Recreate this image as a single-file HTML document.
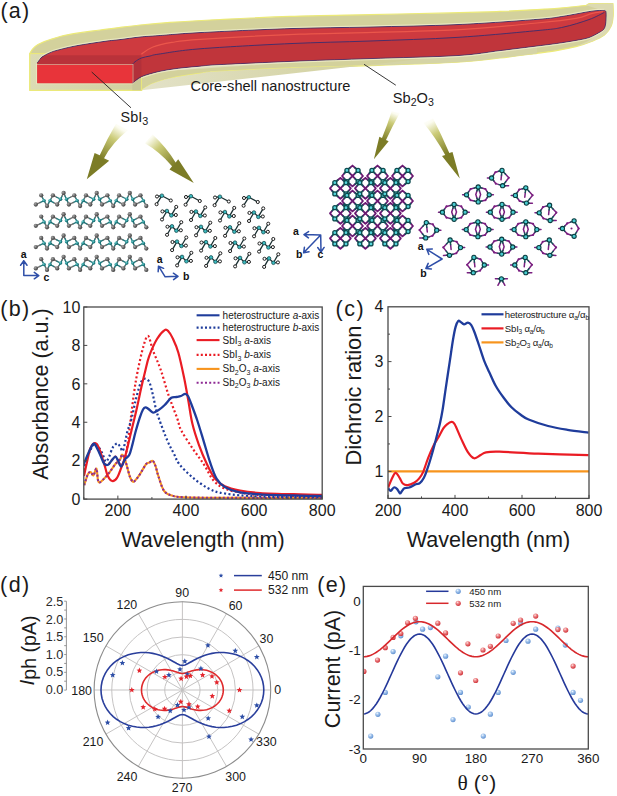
<!DOCTYPE html>
<html><head><meta charset="utf-8"><title>figure</title>
<style>
html,body{margin:0;padding:0;background:#fff;}
body{width:617px;height:796px;overflow:hidden;}
svg{display:block;}
text{font-family:"Liberation Sans",sans-serif;}
</style></head><body>
<svg width="617" height="796" viewBox="0 0 617 796">
<rect width="617" height="796" fill="#fff"/>
<path d="M29.8,53.6C30.33,52.77 31.63,50.1 33,48.6C34.37,47.1 36.12,45.77 38,44.6C39.88,43.43 42.13,42.48 44.3,41.6C46.47,40.72 48.38,40.15 51,39.3C53.62,38.45 57.07,37.28 60,36.5C62.93,35.72 65.78,35.15 68.6,34.6C71.42,34.05 72.83,33.82 76.9,33.2C80.97,32.58 88.32,31.53 93,30.9C97.68,30.27 101,29.92 105,29.4C109,28.88 111.17,28.53 117,27.8C122.83,27.07 131.17,25.9 140,25C148.83,24.1 156.67,23.32 170,22.4C183.33,21.48 200,20.5 220,19.5C240,18.5 265,17.22 290,16.4C315,15.58 343.33,15.18 370,14.6C396.67,14.02 428.33,13.43 450,12.9C471.67,12.37 485.5,11.95 500,11.4C514.5,10.85 526.5,10.2 537,9.6C547.5,9 554.78,8.52 563,7.8C571.22,7.08 582.42,5.72 586.3,5.3 L588.9,3.7 L613,3.6 C613.03,5.6 613.5,11.87 613.2,15.6C612.9,19.33 612.67,22.77 611.2,26C609.73,29.23 607.68,32.42 604.4,35C601.12,37.58 596.25,39.55 591.5,41.5C586.75,43.45 581.73,45.18 575.9,46.7C570.07,48.22 562.98,49.48 556.5,50.6C550.02,51.72 540.25,52.93 537,53.4 C530.83,54.17 513.33,56.53 500,58C486.67,59.47 478.67,60.93 457,62.2C435.33,63.47 396.17,64.7 370,65.6C343.83,66.5 325,66.65 300,67.6C275,68.55 236.67,70.33 220,71.3C203.33,72.27 208.02,72.28 200,73.4C191.98,74.52 179.83,76.27 171.9,78C163.97,79.73 157.48,81.75 152.4,83.8C147.32,85.85 143.23,89.22 141.4,90.3 L29.8,90.3 Z" fill="#d3d19c" stroke="#ecea78" stroke-width="1.2" stroke-linejoin="round"/>
<path d="M586.3,5.3 L588.9,3.7 L613,3.6 C613.03,5.6 613.5,11.87 613.2,15.6C612.9,19.33 612.67,22.77 611.2,26C609.73,29.23 607.68,32.42 604.4,35C601.12,37.58 596.25,39.55 591.5,41.5C586.75,43.45 578.5,45.83 575.9,46.7 L588,41 L604,30 L607,12 Z" fill="#dcdab2"/>
<linearGradient id="sideg" gradientUnits="userSpaceOnUse" x1="141" y1="0" x2="320" y2="0"><stop offset="0" stop-color="#e3e2c8"/><stop offset="1" stop-color="#d5d4a6"/></linearGradient>
<path d="M141.4,90.3 C143.23,89.22 147.32,85.85 152.4,83.8C157.48,81.75 163.97,79.73 171.9,78C179.83,76.27 191.98,74.52 200,73.4C208.02,72.28 203.33,72.27 220,71.3C236.67,70.33 275,68.55 300,67.6C325,66.65 343.83,66.5 370,65.6C396.17,64.7 435.33,63.47 457,62.2C478.67,60.93 486.67,59.47 500,58C513.33,56.53 530.83,54.17 537,53.4 L537,46 C473.98,50.25 218.67,67.78 158.9,71.5C99.13,75.22 171.55,69.18 178.4,68.3C185.25,67.42 193.07,66.82 200,66.2C206.93,65.58 203.33,65.47 220,64.6C236.67,63.73 275,62 300,61C325,60 343.83,59.5 370,58.6C396.17,57.7 435.33,56.93 457,55.6C478.67,54.27 486.67,52.2 500,50.6C513.33,49 530.83,46.77 537,46 Z" fill="url(#sideg)"/>
<linearGradient id="frontg" x1="0" y1="0" x2="1" y2="0"><stop offset="0" stop-color="#dcdbb4"/><stop offset="1" stop-color="#d0cf9f"/></linearGradient>
<rect x="29.8" y="53.6" width="111.6" height="36.7" fill="url(#frontg)" stroke="#ecea78" stroke-width="1.1"/>
<path d="M132.3,83.2 L141.4,76.7 L141.4,90.3 L132.3,90.3 Z" fill="#c9c899"/>
<line x1="141.4" y1="56" x2="141.4" y2="90.3" stroke="#ecea78" stroke-width="0.9"/>
<path d="M37.3,65 L37.3,62.8 C37.52,62.55 38.07,62.07 38.6,61.3C39.13,60.53 39.53,59.17 40.5,58.2C41.47,57.23 42.82,56.42 44.4,55.5C45.98,54.58 47.83,53.58 50,52.7C52.17,51.82 52.92,51.37 57.4,50.2C61.88,49.03 68.97,47.18 76.9,45.7C84.83,44.22 97.82,42.32 105,41.3C112.18,40.28 114.17,40.32 120,39.6C125.83,38.88 133.52,37.67 140,37C146.48,36.33 148.9,36.33 158.9,35.6C168.9,34.87 178.15,33.77 200,32.6C221.85,31.43 261.67,29.53 290,28.6C318.33,27.67 342.17,27.67 370,27C397.83,26.33 429.17,25.87 457,24.6C484.83,23.33 519.33,20.78 537,19.4C554.67,18.02 553.92,17.67 563,16.3C572.08,14.93 584.6,12.18 591.5,11.2C598.4,10.22 602.25,10.53 604.4,10.4 C604.67,10.75 605.8,10.23 606,12.5C606.2,14.77 606.02,21.17 605.6,24C605.18,26.83 604.6,28.07 603.5,29.5C602.4,30.93 601.43,31.25 599,32.6C596.57,33.95 592.75,36.3 588.9,37.6C585.05,38.9 581.3,39.42 575.9,40.4C570.5,41.38 562.98,42.57 556.5,43.5C550.02,44.43 540.25,45.58 537,46 C530.83,46.77 513.33,49 500,50.6C486.67,52.2 478.67,54.27 457,55.6C435.33,56.93 396.17,57.7 370,58.6C343.83,59.5 325,60 300,61C275,62 236.67,63.73 220,64.6C203.33,65.47 206.93,65.58 200,66.2C193.07,66.82 185.25,67.42 178.4,68.3C171.55,69.18 165.07,70.1 158.9,71.5C152.73,72.9 145.83,74.75 141.4,76.7C136.97,78.65 133.82,82.12 132.3,83.2 L37.3,83.2 Z" fill="#ce3a3f"/>
<clipPath id="coreclip"><path d="M37.3,65 L37.3,62.8 C37.52,62.55 38.07,62.07 38.6,61.3C39.13,60.53 39.53,59.17 40.5,58.2C41.47,57.23 42.82,56.42 44.4,55.5C45.98,54.58 47.83,53.58 50,52.7C52.17,51.82 52.92,51.37 57.4,50.2C61.88,49.03 68.97,47.18 76.9,45.7C84.83,44.22 97.82,42.32 105,41.3C112.18,40.28 114.17,40.32 120,39.6C125.83,38.88 133.52,37.67 140,37C146.48,36.33 148.9,36.33 158.9,35.6C168.9,34.87 178.15,33.77 200,32.6C221.85,31.43 261.67,29.53 290,28.6C318.33,27.67 342.17,27.67 370,27C397.83,26.33 429.17,25.87 457,24.6C484.83,23.33 519.33,20.78 537,19.4C554.67,18.02 553.92,17.67 563,16.3C572.08,14.93 584.6,12.18 591.5,11.2C598.4,10.22 602.25,10.53 604.4,10.4 C604.67,10.75 605.8,10.23 606,12.5C606.2,14.77 606.02,21.17 605.6,24C605.18,26.83 604.6,28.07 603.5,29.5C602.4,30.93 601.43,31.25 599,32.6C596.57,33.95 592.75,36.3 588.9,37.6C585.05,38.9 581.3,39.42 575.9,40.4C570.5,41.38 562.98,42.57 556.5,43.5C550.02,44.43 540.25,45.58 537,46 C530.83,46.77 513.33,49 500,50.6C486.67,52.2 478.67,54.27 457,55.6C435.33,56.93 396.17,57.7 370,58.6C343.83,59.5 325,60 300,61C275,62 236.67,63.73 220,64.6C203.33,65.47 206.93,65.58 200,66.2C193.07,66.82 185.25,67.42 178.4,68.3C171.55,69.18 165.07,70.1 158.9,71.5C152.73,72.9 145.83,74.75 141.4,76.7C136.97,78.65 133.82,82.12 132.3,83.2 L37.3,83.2 Z"/></clipPath>
<rect x="36" y="55.3" width="105.4" height="10" fill="#b9323a" clip-path="url(#coreclip)"/>
<path d="M132.3,64.6C132.75,64.13 133.48,62.9 135,61.8C136.52,60.7 138.9,58.97 141.4,58C143.9,57.03 147.08,56.65 150,56C152.92,55.35 150.57,55.3 158.9,54.1C167.23,52.9 178.15,50.55 200,48.8C221.85,47.05 261.67,44.9 290,43.6C318.33,42.3 342.17,42.03 370,41C397.83,39.97 429.17,39.13 457,37.4C484.83,35.67 519.33,32.3 537,30.6C554.67,28.9 554.35,29.03 563,27.2C571.65,25.37 582,22.07 588.9,19.6C595.8,17.13 601.82,13.6 604.4,12.4 C604.67,10.75 605.8,10.23 606,12.5C606.2,14.77 606.02,21.17 605.6,24C605.18,26.83 604.6,28.07 603.5,29.5C602.4,30.93 601.43,31.25 599,32.6C596.57,33.95 592.75,36.3 588.9,37.6C585.05,38.9 581.3,39.42 575.9,40.4C570.5,41.38 562.98,42.57 556.5,43.5C550.02,44.43 540.25,45.58 537,46 C530.83,46.77 513.33,49 500,50.6C486.67,52.2 478.67,54.27 457,55.6C435.33,56.93 396.17,57.7 370,58.6C343.83,59.5 325,60 300,61C275,62 236.67,63.73 220,64.6C203.33,65.47 206.93,65.58 200,66.2C193.07,66.82 185.25,67.42 178.4,68.3C171.55,69.18 165.07,70.1 158.9,71.5C152.73,72.9 145.83,74.75 141.4,76.7C136.97,78.65 133.82,82.12 132.3,83.2 Z" fill="#c0353b"/>
<path d="M132.3,64.6 L141.4,58 L141.4,76.7 L132.3,83.2 Z" fill="#b2303a"/>
<rect x="37.3" y="65" width="95" height="18.2" fill="#e8343a"/>
<path d="M141.4,54.2C143.23,53.03 147.32,49.17 152.4,47.2C157.48,45.23 163.97,43.72 171.9,42.4C179.83,41.08 178.65,40.67 200,39.3C221.35,37.93 258.33,35.72 300,34.2C341.67,32.68 410.5,32.07 450,30.2C489.5,28.33 516,24.97 537,23C558,21.03 566.92,19.97 576,18.4C585.08,16.83 587,14.73 591.5,13.6C596,12.47 601.08,11.93 603,11.6" fill="none" stroke="#ee5a4c" stroke-width="1.2" opacity="0.9"/>
<path d="M38.6,61.3C38.92,60.78 39.53,59.17 40.5,58.2C41.47,57.23 42.82,56.42 44.4,55.5C45.98,54.58 47.83,53.58 50,52.7C52.17,51.82 52.92,51.37 57.4,50.2C61.88,49.03 68.97,47.18 76.9,45.7C84.83,44.22 97.82,42.32 105,41.3C112.18,40.28 114.17,40.32 120,39.6C125.83,38.88 133.52,37.67 140,37C146.48,36.33 148.9,36.33 158.9,35.6C168.9,34.87 178.15,33.77 200,32.6C221.85,31.43 261.67,29.53 290,28.6C318.33,27.67 342.17,27.67 370,27C397.83,26.33 429.17,25.87 457,24.6C484.83,23.33 519.33,20.78 537,19.4C554.67,18.02 553.92,17.67 563,16.3C572.08,14.93 584.6,12.18 591.5,11.2C598.4,10.22 602.25,10.53 604.4,10.4" fill="none" stroke="#3b2d6e" stroke-width="0.9"/>
<path d="M132.3,64.6C132.75,64.13 133.48,62.9 135,61.8C136.52,60.7 138.9,58.97 141.4,58C143.9,57.03 147.08,56.65 150,56C152.92,55.35 150.57,55.3 158.9,54.1C167.23,52.9 178.15,50.55 200,48.8C221.85,47.05 261.67,44.9 290,43.6C318.33,42.3 342.17,42.03 370,41C397.83,39.97 429.17,39.13 457,37.4C484.83,35.67 519.33,32.3 537,30.6C554.67,28.9 554.35,29.03 563,27.2C571.65,25.37 582,22.07 588.9,19.6C595.8,17.13 601.82,13.6 604.4,12.4" fill="none" stroke="#3b2d6e" stroke-width="0.9"/>
<path d="M37.3,62.8 L38.6,61.3" fill="none" stroke="#3b2d6e" stroke-width="0.9"/>
<path d="M604.4,10.4C604.67,10.75 605.8,10.23 606,12.5C606.2,14.77 606.02,21.17 605.6,24C605.18,26.83 604.6,28.07 603.5,29.5C602.4,30.93 601.43,31.25 599,32.6C596.57,33.95 592.75,36.3 588.9,37.6C585.05,38.9 581.3,39.42 575.9,40.4C570.5,41.38 562.98,42.57 556.5,43.5C550.02,44.43 546.42,44.82 537,46C527.58,47.18 513.33,49 500,50.6C486.67,52.2 478.67,54.27 457,55.6C435.33,56.93 396.17,57.7 370,58.6C343.83,59.5 325,60 300,61C275,62 236.67,63.73 220,64.6C203.33,65.47 206.93,65.58 200,66.2C193.07,66.82 185.25,67.42 178.4,68.3C171.55,69.18 165.07,70.1 158.9,71.5C152.73,72.9 145.83,74.75 141.4,76.7C136.97,78.65 133.82,82.12 132.3,83.2" fill="none" stroke="#3b2d6e" stroke-width="0.8"/>
<g transform="translate(0,-1.1)"><path d="M38.6,61.3C38.92,60.78 39.53,59.17 40.5,58.2C41.47,57.23 42.82,56.42 44.4,55.5C45.98,54.58 47.83,53.58 50,52.7C52.17,51.82 52.92,51.37 57.4,50.2C61.88,49.03 68.97,47.18 76.9,45.7C84.83,44.22 97.82,42.32 105,41.3C112.18,40.28 114.17,40.32 120,39.6C125.83,38.88 133.52,37.67 140,37C146.48,36.33 148.9,36.33 158.9,35.6C168.9,34.87 178.15,33.77 200,32.6C221.85,31.43 261.67,29.53 290,28.6C318.33,27.67 342.17,27.67 370,27C397.83,26.33 429.17,25.87 457,24.6C484.83,23.33 519.33,20.78 537,19.4C554.67,18.02 553.92,17.67 563,16.3C572.08,14.93 584.6,12.18 591.5,11.2C598.4,10.22 602.25,10.53 604.4,10.4" fill="none" stroke="#f2f0cf" stroke-width="0.8"/></g>
<g transform="translate(0,1.1)"><path d="M603.5,29.5C602.75,30.02 601.43,31.25 599,32.6C596.57,33.95 592.75,36.3 588.9,37.6C585.05,38.9 581.3,39.42 575.9,40.4C570.5,41.38 562.98,42.57 556.5,43.5C550.02,44.43 546.42,44.82 537,46C527.58,47.18 513.33,49 500,50.6C486.67,52.2 478.67,54.27 457,55.6C435.33,56.93 396.17,57.7 370,58.6C343.83,59.5 325,60 300,61C275,62 236.67,63.73 220,64.6C203.33,65.47 206.93,65.58 200,66.2C193.07,66.82 185.25,67.42 178.4,68.3C171.55,69.18 165.07,70.1 158.9,71.5C152.73,72.9 144.32,75.83 141.4,76.7" fill="none" stroke="#f2f0cf" stroke-width="0.8"/></g>
<rect x="36.6" y="64.4" width="96.4" height="19.5" fill="none" stroke="#f2f0c8" stroke-width="0.7" opacity="0.7"/>
<line x1="91.7" y1="72" x2="131" y2="107.8" stroke="#222" stroke-width="0.9"/>
<line x1="364" y1="64.3" x2="395.8" y2="85.2" stroke="#222" stroke-width="0.9"/>
<text x="0.4" y="18.4" font-size="21.5" text-anchor="start" fill="#1a1a1a" letter-spacing="1.3">(a)</text>
<text x="190.6" y="91.2" font-size="14.6" text-anchor="start" fill="#1a1a1a" >Core-shell nanostructure</text>
<text x="120.6" y="122" font-size="14.4" fill="#1a1a1a">SbI<tspan font-size="10.8" dy="3.2">3</tspan></text>
<text x="392.8" y="102.9" font-size="14.6" fill="#1a1a1a">Sb<tspan font-size="10.6" dy="2.9">2</tspan><tspan dy="-2.9">O</tspan><tspan font-size="10.6" dy="2.9">3</tspan></text>
<defs>
<linearGradient id="ag1" gradientUnits="userSpaceOnUse" x1="122" y1="124" x2="100" y2="158"><stop offset="0" stop-color="#ffffff"/><stop offset="0.12" stop-color="#fbfbef"/><stop offset="0.42" stop-color="#cbcb78"/><stop offset="1" stop-color="#7c7c26"/></linearGradient>
<linearGradient id="ag2" gradientUnits="userSpaceOnUse" x1="146" y1="136" x2="175" y2="165"><stop offset="0" stop-color="#ffffff"/><stop offset="0.12" stop-color="#fbfbef"/><stop offset="0.42" stop-color="#cbcb78"/><stop offset="1" stop-color="#7c7c26"/></linearGradient>
<linearGradient id="ag3" gradientUnits="userSpaceOnUse" x1="396" y1="110" x2="383" y2="140"><stop offset="0" stop-color="#ffffff"/><stop offset="0.12" stop-color="#fbfbef"/><stop offset="0.42" stop-color="#cbcb78"/><stop offset="1" stop-color="#7c7c26"/></linearGradient>
<linearGradient id="ag4" gradientUnits="userSpaceOnUse" x1="427" y1="119" x2="448" y2="154"><stop offset="0" stop-color="#ffffff"/><stop offset="0.12" stop-color="#fbfbef"/><stop offset="0.42" stop-color="#cbcb78"/><stop offset="1" stop-color="#7c7c26"/></linearGradient>
</defs>
<path d="M116,123.8 Q107,139 99.74,155.35 L94.6,152.9 L86.8,179.2 L109.2,160.7 L104.06,158.25 Q112,143 128.2,130.1 Z" fill="url(#ag1)"/>
<path d="M152.6,134.6 Q166,147 175.63,162.5 L178.2,159.3 L193.8,183.1 L169.5,169.5 L172.07,166.3 Q160,152 144.9,143.3 Z" fill="url(#ag2)"/>
<path d="M391.7,111.3 Q387,126 382,138 L379.35,136.7 L373.9,159.2 L388.65,141.3 L386,140 Q392,127 399.8,113 Z" fill="url(#ag3)"/>
<path d="M423.3,122.7 Q436,138 445.2,154.9 L442,155.9 L459.8,178.5 L452.5,151.9 L449.3,152.9 Q441,134 433.1,118.6 Z" fill="url(#ag4)"/>
<defs>
<radialGradient id="gball" cx="0.35" cy="0.35" r="0.75"><stop offset="0" stop-color="#a8a8a8"/><stop offset="0.6" stop-color="#5c5c5c"/><stop offset="1" stop-color="#3a3a3a"/></radialGradient>
<radialGradient id="tball" cx="0.35" cy="0.35" r="0.75"><stop offset="0" stop-color="#6fcfd0"/><stop offset="0.6" stop-color="#1c8185"/><stop offset="1" stop-color="#0d4f52"/></radialGradient>
</defs>
<g stroke-width="1.35" stroke-linecap="round"><line x1="41.2" y1="195.3" x2="42.65" y2="197.95" stroke="#707070"/><line x1="42.65" y1="197.95" x2="44.1" y2="200.6" stroke="#25797c"/><line x1="44.1" y1="200.6" x2="39.95" y2="202.55" stroke="#25797c"/><line x1="39.95" y1="202.55" x2="35.8" y2="204.5" stroke="#707070"/><line x1="44.1" y1="200.6" x2="45.55" y2="203.3" stroke="#25797c"/><line x1="45.55" y1="203.3" x2="47" y2="206" stroke="#707070"/><line x1="47" y1="206" x2="48.5" y2="203.3" stroke="#707070"/><line x1="48.5" y1="203.3" x2="50" y2="200.6" stroke="#25797c"/><line x1="50" y1="200.6" x2="51.45" y2="197.95" stroke="#25797c"/><line x1="51.45" y1="197.95" x2="52.9" y2="195.3" stroke="#707070"/><line x1="52.9" y1="195.3" x2="56.75" y2="197.25" stroke="#707070"/><line x1="56.75" y1="197.25" x2="60.6" y2="199.2" stroke="#25797c"/><line x1="60.6" y1="199.2" x2="58.9" y2="201.85" stroke="#25797c"/><line x1="58.9" y1="201.85" x2="57.2" y2="204.5" stroke="#707070"/><line x1="57.2" y1="204.5" x2="53.6" y2="202.55" stroke="#707070"/><line x1="53.6" y1="202.55" x2="50" y2="200.6" stroke="#25797c"/><line x1="60.6" y1="199.2" x2="62.1" y2="196.05" stroke="#25797c"/><line x1="62.1" y1="196.05" x2="63.6" y2="192.9" stroke="#707070"/><line x1="63.6" y1="192.9" x2="65.05" y2="196.05" stroke="#707070"/><line x1="65.05" y1="196.05" x2="66.5" y2="199.2" stroke="#25797c"/><line x1="66.5" y1="199.2" x2="70.4" y2="197.25" stroke="#25797c"/><line x1="70.4" y1="197.25" x2="74.3" y2="195.3" stroke="#707070"/><line x1="74.3" y1="195.3" x2="75.75" y2="197.95" stroke="#707070"/><line x1="75.75" y1="197.95" x2="77.2" y2="200.6" stroke="#25797c"/><line x1="77.2" y1="200.6" x2="73.05" y2="202.55" stroke="#25797c"/><line x1="73.05" y1="202.55" x2="68.9" y2="204.5" stroke="#707070"/><line x1="68.9" y1="204.5" x2="67.7" y2="201.85" stroke="#707070"/><line x1="67.7" y1="201.85" x2="66.5" y2="199.2" stroke="#25797c"/><line x1="77.2" y1="200.6" x2="78.65" y2="203.3" stroke="#25797c"/><line x1="78.65" y1="203.3" x2="80.1" y2="206" stroke="#707070"/><line x1="80.1" y1="206" x2="81.6" y2="203.3" stroke="#707070"/><line x1="81.6" y1="203.3" x2="83.1" y2="200.6" stroke="#25797c"/><line x1="83.1" y1="200.6" x2="84.55" y2="197.95" stroke="#25797c"/><line x1="84.55" y1="197.95" x2="86" y2="195.3" stroke="#707070"/><line x1="86" y1="195.3" x2="89.85" y2="197.25" stroke="#707070"/><line x1="89.85" y1="197.25" x2="93.7" y2="199.2" stroke="#25797c"/><line x1="93.7" y1="199.2" x2="92" y2="201.85" stroke="#25797c"/><line x1="92" y1="201.85" x2="90.3" y2="204.5" stroke="#707070"/><line x1="90.3" y1="204.5" x2="86.7" y2="202.55" stroke="#707070"/><line x1="86.7" y1="202.55" x2="83.1" y2="200.6" stroke="#25797c"/><line x1="93.7" y1="199.2" x2="95.2" y2="196.05" stroke="#25797c"/><line x1="95.2" y1="196.05" x2="96.7" y2="192.9" stroke="#707070"/><line x1="96.7" y1="192.9" x2="98.15" y2="196.05" stroke="#707070"/><line x1="98.15" y1="196.05" x2="99.6" y2="199.2" stroke="#25797c"/><line x1="99.6" y1="199.2" x2="103.5" y2="197.25" stroke="#25797c"/><line x1="103.5" y1="197.25" x2="107.4" y2="195.3" stroke="#707070"/><line x1="107.4" y1="195.3" x2="108.85" y2="197.95" stroke="#707070"/><line x1="108.85" y1="197.95" x2="110.3" y2="200.6" stroke="#25797c"/><line x1="110.3" y1="200.6" x2="106.15" y2="202.55" stroke="#25797c"/><line x1="106.15" y1="202.55" x2="102" y2="204.5" stroke="#707070"/><line x1="102" y1="204.5" x2="100.8" y2="201.85" stroke="#707070"/><line x1="100.8" y1="201.85" x2="99.6" y2="199.2" stroke="#25797c"/><line x1="110.3" y1="200.6" x2="111.75" y2="203.3" stroke="#25797c"/><line x1="111.75" y1="203.3" x2="113.2" y2="206" stroke="#707070"/><line x1="113.2" y1="206" x2="114.7" y2="203.3" stroke="#707070"/><line x1="114.7" y1="203.3" x2="116.2" y2="200.6" stroke="#25797c"/><line x1="116.2" y1="200.6" x2="117.65" y2="197.95" stroke="#25797c"/><line x1="117.65" y1="197.95" x2="119.1" y2="195.3" stroke="#707070"/><line x1="119.1" y1="195.3" x2="122.95" y2="197.25" stroke="#707070"/><line x1="122.95" y1="197.25" x2="126.8" y2="199.2" stroke="#25797c"/><line x1="126.8" y1="199.2" x2="125.1" y2="201.85" stroke="#25797c"/><line x1="125.1" y1="201.85" x2="123.4" y2="204.5" stroke="#707070"/><line x1="123.4" y1="204.5" x2="119.8" y2="202.55" stroke="#707070"/><line x1="119.8" y1="202.55" x2="116.2" y2="200.6" stroke="#25797c"/><line x1="126.8" y1="199.2" x2="128.3" y2="196.05" stroke="#25797c"/><line x1="128.3" y1="196.05" x2="129.8" y2="192.9" stroke="#707070"/><line x1="129.8" y1="192.9" x2="131.25" y2="196.05" stroke="#707070"/><line x1="131.25" y1="196.05" x2="132.7" y2="199.2" stroke="#25797c"/><line x1="132.7" y1="199.2" x2="136.6" y2="197.25" stroke="#25797c"/><line x1="136.6" y1="197.25" x2="140.5" y2="195.3" stroke="#707070"/><line x1="140.5" y1="195.3" x2="141.95" y2="197.95" stroke="#707070"/><line x1="141.95" y1="197.95" x2="143.4" y2="200.6" stroke="#25797c"/><line x1="143.4" y1="200.6" x2="139.25" y2="202.55" stroke="#25797c"/><line x1="139.25" y1="202.55" x2="135.1" y2="204.5" stroke="#707070"/><line x1="135.1" y1="204.5" x2="133.9" y2="201.85" stroke="#707070"/><line x1="133.9" y1="201.85" x2="132.7" y2="199.2" stroke="#25797c"/><line x1="143.4" y1="200.6" x2="144.85" y2="203.3" stroke="#25797c"/><line x1="144.85" y1="203.3" x2="146.3" y2="206" stroke="#707070"/><line x1="41.2" y1="216.6" x2="42.65" y2="219.25" stroke="#707070"/><line x1="42.65" y1="219.25" x2="44.1" y2="221.9" stroke="#25797c"/><line x1="44.1" y1="221.9" x2="39.95" y2="223.85" stroke="#25797c"/><line x1="39.95" y1="223.85" x2="35.8" y2="225.8" stroke="#707070"/><line x1="44.1" y1="221.9" x2="45.55" y2="224.6" stroke="#25797c"/><line x1="45.55" y1="224.6" x2="47" y2="227.3" stroke="#707070"/><line x1="47" y1="227.3" x2="48.5" y2="224.6" stroke="#707070"/><line x1="48.5" y1="224.6" x2="50" y2="221.9" stroke="#25797c"/><line x1="50" y1="221.9" x2="51.45" y2="219.25" stroke="#25797c"/><line x1="51.45" y1="219.25" x2="52.9" y2="216.6" stroke="#707070"/><line x1="52.9" y1="216.6" x2="56.75" y2="218.55" stroke="#707070"/><line x1="56.75" y1="218.55" x2="60.6" y2="220.5" stroke="#25797c"/><line x1="60.6" y1="220.5" x2="58.9" y2="223.15" stroke="#25797c"/><line x1="58.9" y1="223.15" x2="57.2" y2="225.8" stroke="#707070"/><line x1="57.2" y1="225.8" x2="53.6" y2="223.85" stroke="#707070"/><line x1="53.6" y1="223.85" x2="50" y2="221.9" stroke="#25797c"/><line x1="60.6" y1="220.5" x2="62.1" y2="217.35" stroke="#25797c"/><line x1="62.1" y1="217.35" x2="63.6" y2="214.2" stroke="#707070"/><line x1="63.6" y1="214.2" x2="65.05" y2="217.35" stroke="#707070"/><line x1="65.05" y1="217.35" x2="66.5" y2="220.5" stroke="#25797c"/><line x1="66.5" y1="220.5" x2="70.4" y2="218.55" stroke="#25797c"/><line x1="70.4" y1="218.55" x2="74.3" y2="216.6" stroke="#707070"/><line x1="74.3" y1="216.6" x2="75.75" y2="219.25" stroke="#707070"/><line x1="75.75" y1="219.25" x2="77.2" y2="221.9" stroke="#25797c"/><line x1="77.2" y1="221.9" x2="73.05" y2="223.85" stroke="#25797c"/><line x1="73.05" y1="223.85" x2="68.9" y2="225.8" stroke="#707070"/><line x1="68.9" y1="225.8" x2="67.7" y2="223.15" stroke="#707070"/><line x1="67.7" y1="223.15" x2="66.5" y2="220.5" stroke="#25797c"/><line x1="77.2" y1="221.9" x2="78.65" y2="224.6" stroke="#25797c"/><line x1="78.65" y1="224.6" x2="80.1" y2="227.3" stroke="#707070"/><line x1="80.1" y1="227.3" x2="81.6" y2="224.6" stroke="#707070"/><line x1="81.6" y1="224.6" x2="83.1" y2="221.9" stroke="#25797c"/><line x1="83.1" y1="221.9" x2="84.55" y2="219.25" stroke="#25797c"/><line x1="84.55" y1="219.25" x2="86" y2="216.6" stroke="#707070"/><line x1="86" y1="216.6" x2="89.85" y2="218.55" stroke="#707070"/><line x1="89.85" y1="218.55" x2="93.7" y2="220.5" stroke="#25797c"/><line x1="93.7" y1="220.5" x2="92" y2="223.15" stroke="#25797c"/><line x1="92" y1="223.15" x2="90.3" y2="225.8" stroke="#707070"/><line x1="90.3" y1="225.8" x2="86.7" y2="223.85" stroke="#707070"/><line x1="86.7" y1="223.85" x2="83.1" y2="221.9" stroke="#25797c"/><line x1="93.7" y1="220.5" x2="95.2" y2="217.35" stroke="#25797c"/><line x1="95.2" y1="217.35" x2="96.7" y2="214.2" stroke="#707070"/><line x1="96.7" y1="214.2" x2="98.15" y2="217.35" stroke="#707070"/><line x1="98.15" y1="217.35" x2="99.6" y2="220.5" stroke="#25797c"/><line x1="99.6" y1="220.5" x2="103.5" y2="218.55" stroke="#25797c"/><line x1="103.5" y1="218.55" x2="107.4" y2="216.6" stroke="#707070"/><line x1="107.4" y1="216.6" x2="108.85" y2="219.25" stroke="#707070"/><line x1="108.85" y1="219.25" x2="110.3" y2="221.9" stroke="#25797c"/><line x1="110.3" y1="221.9" x2="106.15" y2="223.85" stroke="#25797c"/><line x1="106.15" y1="223.85" x2="102" y2="225.8" stroke="#707070"/><line x1="102" y1="225.8" x2="100.8" y2="223.15" stroke="#707070"/><line x1="100.8" y1="223.15" x2="99.6" y2="220.5" stroke="#25797c"/><line x1="110.3" y1="221.9" x2="111.75" y2="224.6" stroke="#25797c"/><line x1="111.75" y1="224.6" x2="113.2" y2="227.3" stroke="#707070"/><line x1="113.2" y1="227.3" x2="114.7" y2="224.6" stroke="#707070"/><line x1="114.7" y1="224.6" x2="116.2" y2="221.9" stroke="#25797c"/><line x1="116.2" y1="221.9" x2="117.65" y2="219.25" stroke="#25797c"/><line x1="117.65" y1="219.25" x2="119.1" y2="216.6" stroke="#707070"/><line x1="119.1" y1="216.6" x2="122.95" y2="218.55" stroke="#707070"/><line x1="122.95" y1="218.55" x2="126.8" y2="220.5" stroke="#25797c"/><line x1="126.8" y1="220.5" x2="125.1" y2="223.15" stroke="#25797c"/><line x1="125.1" y1="223.15" x2="123.4" y2="225.8" stroke="#707070"/><line x1="123.4" y1="225.8" x2="119.8" y2="223.85" stroke="#707070"/><line x1="119.8" y1="223.85" x2="116.2" y2="221.9" stroke="#25797c"/><line x1="126.8" y1="220.5" x2="128.3" y2="217.35" stroke="#25797c"/><line x1="128.3" y1="217.35" x2="129.8" y2="214.2" stroke="#707070"/><line x1="129.8" y1="214.2" x2="131.25" y2="217.35" stroke="#707070"/><line x1="131.25" y1="217.35" x2="132.7" y2="220.5" stroke="#25797c"/><line x1="132.7" y1="220.5" x2="136.6" y2="218.55" stroke="#25797c"/><line x1="136.6" y1="218.55" x2="140.5" y2="216.6" stroke="#707070"/><line x1="140.5" y1="216.6" x2="141.95" y2="219.25" stroke="#707070"/><line x1="141.95" y1="219.25" x2="143.4" y2="221.9" stroke="#25797c"/><line x1="143.4" y1="221.9" x2="139.25" y2="223.85" stroke="#25797c"/><line x1="139.25" y1="223.85" x2="135.1" y2="225.8" stroke="#707070"/><line x1="135.1" y1="225.8" x2="133.9" y2="223.15" stroke="#707070"/><line x1="133.9" y1="223.15" x2="132.7" y2="220.5" stroke="#25797c"/><line x1="143.4" y1="221.9" x2="144.85" y2="224.6" stroke="#25797c"/><line x1="144.85" y1="224.6" x2="146.3" y2="227.3" stroke="#707070"/><line x1="41.2" y1="237.9" x2="42.65" y2="240.55" stroke="#707070"/><line x1="42.65" y1="240.55" x2="44.1" y2="243.2" stroke="#25797c"/><line x1="44.1" y1="243.2" x2="39.95" y2="245.15" stroke="#25797c"/><line x1="39.95" y1="245.15" x2="35.8" y2="247.1" stroke="#707070"/><line x1="44.1" y1="243.2" x2="45.55" y2="245.9" stroke="#25797c"/><line x1="45.55" y1="245.9" x2="47" y2="248.6" stroke="#707070"/><line x1="47" y1="248.6" x2="48.5" y2="245.9" stroke="#707070"/><line x1="48.5" y1="245.9" x2="50" y2="243.2" stroke="#25797c"/><line x1="50" y1="243.2" x2="51.45" y2="240.55" stroke="#25797c"/><line x1="51.45" y1="240.55" x2="52.9" y2="237.9" stroke="#707070"/><line x1="52.9" y1="237.9" x2="56.75" y2="239.85" stroke="#707070"/><line x1="56.75" y1="239.85" x2="60.6" y2="241.8" stroke="#25797c"/><line x1="60.6" y1="241.8" x2="58.9" y2="244.45" stroke="#25797c"/><line x1="58.9" y1="244.45" x2="57.2" y2="247.1" stroke="#707070"/><line x1="57.2" y1="247.1" x2="53.6" y2="245.15" stroke="#707070"/><line x1="53.6" y1="245.15" x2="50" y2="243.2" stroke="#25797c"/><line x1="60.6" y1="241.8" x2="62.1" y2="238.65" stroke="#25797c"/><line x1="62.1" y1="238.65" x2="63.6" y2="235.5" stroke="#707070"/><line x1="63.6" y1="235.5" x2="65.05" y2="238.65" stroke="#707070"/><line x1="65.05" y1="238.65" x2="66.5" y2="241.8" stroke="#25797c"/><line x1="66.5" y1="241.8" x2="70.4" y2="239.85" stroke="#25797c"/><line x1="70.4" y1="239.85" x2="74.3" y2="237.9" stroke="#707070"/><line x1="74.3" y1="237.9" x2="75.75" y2="240.55" stroke="#707070"/><line x1="75.75" y1="240.55" x2="77.2" y2="243.2" stroke="#25797c"/><line x1="77.2" y1="243.2" x2="73.05" y2="245.15" stroke="#25797c"/><line x1="73.05" y1="245.15" x2="68.9" y2="247.1" stroke="#707070"/><line x1="68.9" y1="247.1" x2="67.7" y2="244.45" stroke="#707070"/><line x1="67.7" y1="244.45" x2="66.5" y2="241.8" stroke="#25797c"/><line x1="77.2" y1="243.2" x2="78.65" y2="245.9" stroke="#25797c"/><line x1="78.65" y1="245.9" x2="80.1" y2="248.6" stroke="#707070"/><line x1="80.1" y1="248.6" x2="81.6" y2="245.9" stroke="#707070"/><line x1="81.6" y1="245.9" x2="83.1" y2="243.2" stroke="#25797c"/><line x1="83.1" y1="243.2" x2="84.55" y2="240.55" stroke="#25797c"/><line x1="84.55" y1="240.55" x2="86" y2="237.9" stroke="#707070"/><line x1="86" y1="237.9" x2="89.85" y2="239.85" stroke="#707070"/><line x1="89.85" y1="239.85" x2="93.7" y2="241.8" stroke="#25797c"/><line x1="93.7" y1="241.8" x2="92" y2="244.45" stroke="#25797c"/><line x1="92" y1="244.45" x2="90.3" y2="247.1" stroke="#707070"/><line x1="90.3" y1="247.1" x2="86.7" y2="245.15" stroke="#707070"/><line x1="86.7" y1="245.15" x2="83.1" y2="243.2" stroke="#25797c"/><line x1="93.7" y1="241.8" x2="95.2" y2="238.65" stroke="#25797c"/><line x1="95.2" y1="238.65" x2="96.7" y2="235.5" stroke="#707070"/><line x1="96.7" y1="235.5" x2="98.15" y2="238.65" stroke="#707070"/><line x1="98.15" y1="238.65" x2="99.6" y2="241.8" stroke="#25797c"/><line x1="99.6" y1="241.8" x2="103.5" y2="239.85" stroke="#25797c"/><line x1="103.5" y1="239.85" x2="107.4" y2="237.9" stroke="#707070"/><line x1="107.4" y1="237.9" x2="108.85" y2="240.55" stroke="#707070"/><line x1="108.85" y1="240.55" x2="110.3" y2="243.2" stroke="#25797c"/><line x1="110.3" y1="243.2" x2="106.15" y2="245.15" stroke="#25797c"/><line x1="106.15" y1="245.15" x2="102" y2="247.1" stroke="#707070"/><line x1="102" y1="247.1" x2="100.8" y2="244.45" stroke="#707070"/><line x1="100.8" y1="244.45" x2="99.6" y2="241.8" stroke="#25797c"/><line x1="110.3" y1="243.2" x2="111.75" y2="245.9" stroke="#25797c"/><line x1="111.75" y1="245.9" x2="113.2" y2="248.6" stroke="#707070"/><line x1="113.2" y1="248.6" x2="114.7" y2="245.9" stroke="#707070"/><line x1="114.7" y1="245.9" x2="116.2" y2="243.2" stroke="#25797c"/><line x1="116.2" y1="243.2" x2="117.65" y2="240.55" stroke="#25797c"/><line x1="117.65" y1="240.55" x2="119.1" y2="237.9" stroke="#707070"/><line x1="119.1" y1="237.9" x2="122.95" y2="239.85" stroke="#707070"/><line x1="122.95" y1="239.85" x2="126.8" y2="241.8" stroke="#25797c"/><line x1="126.8" y1="241.8" x2="125.1" y2="244.45" stroke="#25797c"/><line x1="125.1" y1="244.45" x2="123.4" y2="247.1" stroke="#707070"/><line x1="123.4" y1="247.1" x2="119.8" y2="245.15" stroke="#707070"/><line x1="119.8" y1="245.15" x2="116.2" y2="243.2" stroke="#25797c"/><line x1="126.8" y1="241.8" x2="128.3" y2="238.65" stroke="#25797c"/><line x1="128.3" y1="238.65" x2="129.8" y2="235.5" stroke="#707070"/><line x1="129.8" y1="235.5" x2="131.25" y2="238.65" stroke="#707070"/><line x1="131.25" y1="238.65" x2="132.7" y2="241.8" stroke="#25797c"/><line x1="132.7" y1="241.8" x2="136.6" y2="239.85" stroke="#25797c"/><line x1="136.6" y1="239.85" x2="140.5" y2="237.9" stroke="#707070"/><line x1="140.5" y1="237.9" x2="141.95" y2="240.55" stroke="#707070"/><line x1="141.95" y1="240.55" x2="143.4" y2="243.2" stroke="#25797c"/><line x1="143.4" y1="243.2" x2="139.25" y2="245.15" stroke="#25797c"/><line x1="139.25" y1="245.15" x2="135.1" y2="247.1" stroke="#707070"/><line x1="135.1" y1="247.1" x2="133.9" y2="244.45" stroke="#707070"/><line x1="133.9" y1="244.45" x2="132.7" y2="241.8" stroke="#25797c"/><line x1="143.4" y1="243.2" x2="144.85" y2="245.9" stroke="#25797c"/><line x1="144.85" y1="245.9" x2="146.3" y2="248.6" stroke="#707070"/><line x1="41.2" y1="259.2" x2="42.65" y2="261.85" stroke="#707070"/><line x1="42.65" y1="261.85" x2="44.1" y2="264.5" stroke="#25797c"/><line x1="44.1" y1="264.5" x2="39.95" y2="266.45" stroke="#25797c"/><line x1="39.95" y1="266.45" x2="35.8" y2="268.4" stroke="#707070"/><line x1="44.1" y1="264.5" x2="45.55" y2="267.2" stroke="#25797c"/><line x1="45.55" y1="267.2" x2="47" y2="269.9" stroke="#707070"/><line x1="47" y1="269.9" x2="48.5" y2="267.2" stroke="#707070"/><line x1="48.5" y1="267.2" x2="50" y2="264.5" stroke="#25797c"/><line x1="50" y1="264.5" x2="51.45" y2="261.85" stroke="#25797c"/><line x1="51.45" y1="261.85" x2="52.9" y2="259.2" stroke="#707070"/><line x1="52.9" y1="259.2" x2="56.75" y2="261.15" stroke="#707070"/><line x1="56.75" y1="261.15" x2="60.6" y2="263.1" stroke="#25797c"/><line x1="60.6" y1="263.1" x2="58.9" y2="265.75" stroke="#25797c"/><line x1="58.9" y1="265.75" x2="57.2" y2="268.4" stroke="#707070"/><line x1="57.2" y1="268.4" x2="53.6" y2="266.45" stroke="#707070"/><line x1="53.6" y1="266.45" x2="50" y2="264.5" stroke="#25797c"/><line x1="60.6" y1="263.1" x2="62.1" y2="259.95" stroke="#25797c"/><line x1="62.1" y1="259.95" x2="63.6" y2="256.8" stroke="#707070"/><line x1="63.6" y1="256.8" x2="65.05" y2="259.95" stroke="#707070"/><line x1="65.05" y1="259.95" x2="66.5" y2="263.1" stroke="#25797c"/><line x1="66.5" y1="263.1" x2="70.4" y2="261.15" stroke="#25797c"/><line x1="70.4" y1="261.15" x2="74.3" y2="259.2" stroke="#707070"/><line x1="74.3" y1="259.2" x2="75.75" y2="261.85" stroke="#707070"/><line x1="75.75" y1="261.85" x2="77.2" y2="264.5" stroke="#25797c"/><line x1="77.2" y1="264.5" x2="73.05" y2="266.45" stroke="#25797c"/><line x1="73.05" y1="266.45" x2="68.9" y2="268.4" stroke="#707070"/><line x1="68.9" y1="268.4" x2="67.7" y2="265.75" stroke="#707070"/><line x1="67.7" y1="265.75" x2="66.5" y2="263.1" stroke="#25797c"/><line x1="77.2" y1="264.5" x2="78.65" y2="267.2" stroke="#25797c"/><line x1="78.65" y1="267.2" x2="80.1" y2="269.9" stroke="#707070"/><line x1="80.1" y1="269.9" x2="81.6" y2="267.2" stroke="#707070"/><line x1="81.6" y1="267.2" x2="83.1" y2="264.5" stroke="#25797c"/><line x1="83.1" y1="264.5" x2="84.55" y2="261.85" stroke="#25797c"/><line x1="84.55" y1="261.85" x2="86" y2="259.2" stroke="#707070"/><line x1="86" y1="259.2" x2="89.85" y2="261.15" stroke="#707070"/><line x1="89.85" y1="261.15" x2="93.7" y2="263.1" stroke="#25797c"/><line x1="93.7" y1="263.1" x2="92" y2="265.75" stroke="#25797c"/><line x1="92" y1="265.75" x2="90.3" y2="268.4" stroke="#707070"/><line x1="90.3" y1="268.4" x2="86.7" y2="266.45" stroke="#707070"/><line x1="86.7" y1="266.45" x2="83.1" y2="264.5" stroke="#25797c"/><line x1="93.7" y1="263.1" x2="95.2" y2="259.95" stroke="#25797c"/><line x1="95.2" y1="259.95" x2="96.7" y2="256.8" stroke="#707070"/><line x1="96.7" y1="256.8" x2="98.15" y2="259.95" stroke="#707070"/><line x1="98.15" y1="259.95" x2="99.6" y2="263.1" stroke="#25797c"/><line x1="99.6" y1="263.1" x2="103.5" y2="261.15" stroke="#25797c"/><line x1="103.5" y1="261.15" x2="107.4" y2="259.2" stroke="#707070"/><line x1="107.4" y1="259.2" x2="108.85" y2="261.85" stroke="#707070"/><line x1="108.85" y1="261.85" x2="110.3" y2="264.5" stroke="#25797c"/><line x1="110.3" y1="264.5" x2="106.15" y2="266.45" stroke="#25797c"/><line x1="106.15" y1="266.45" x2="102" y2="268.4" stroke="#707070"/><line x1="102" y1="268.4" x2="100.8" y2="265.75" stroke="#707070"/><line x1="100.8" y1="265.75" x2="99.6" y2="263.1" stroke="#25797c"/><line x1="110.3" y1="264.5" x2="111.75" y2="267.2" stroke="#25797c"/><line x1="111.75" y1="267.2" x2="113.2" y2="269.9" stroke="#707070"/><line x1="113.2" y1="269.9" x2="114.7" y2="267.2" stroke="#707070"/><line x1="114.7" y1="267.2" x2="116.2" y2="264.5" stroke="#25797c"/><line x1="116.2" y1="264.5" x2="117.65" y2="261.85" stroke="#25797c"/><line x1="117.65" y1="261.85" x2="119.1" y2="259.2" stroke="#707070"/><line x1="119.1" y1="259.2" x2="122.95" y2="261.15" stroke="#707070"/><line x1="122.95" y1="261.15" x2="126.8" y2="263.1" stroke="#25797c"/><line x1="126.8" y1="263.1" x2="125.1" y2="265.75" stroke="#25797c"/><line x1="125.1" y1="265.75" x2="123.4" y2="268.4" stroke="#707070"/><line x1="123.4" y1="268.4" x2="119.8" y2="266.45" stroke="#707070"/><line x1="119.8" y1="266.45" x2="116.2" y2="264.5" stroke="#25797c"/><line x1="126.8" y1="263.1" x2="128.3" y2="259.95" stroke="#25797c"/><line x1="128.3" y1="259.95" x2="129.8" y2="256.8" stroke="#707070"/><line x1="129.8" y1="256.8" x2="131.25" y2="259.95" stroke="#707070"/><line x1="131.25" y1="259.95" x2="132.7" y2="263.1" stroke="#25797c"/><line x1="132.7" y1="263.1" x2="136.6" y2="261.15" stroke="#25797c"/><line x1="136.6" y1="261.15" x2="140.5" y2="259.2" stroke="#707070"/><line x1="140.5" y1="259.2" x2="141.95" y2="261.85" stroke="#707070"/><line x1="141.95" y1="261.85" x2="143.4" y2="264.5" stroke="#25797c"/><line x1="143.4" y1="264.5" x2="139.25" y2="266.45" stroke="#25797c"/><line x1="139.25" y1="266.45" x2="135.1" y2="268.4" stroke="#707070"/><line x1="135.1" y1="268.4" x2="133.9" y2="265.75" stroke="#707070"/><line x1="133.9" y1="265.75" x2="132.7" y2="263.1" stroke="#25797c"/><line x1="143.4" y1="264.5" x2="144.85" y2="267.2" stroke="#25797c"/><line x1="144.85" y1="267.2" x2="146.3" y2="269.9" stroke="#707070"/></g>
<g><circle cx="35.8" cy="204.5" r="2.15" fill="url(#gball)"/><circle cx="41.2" cy="195.3" r="2.15" fill="url(#gball)"/><circle cx="44.1" cy="200.6" r="1.7" fill="url(#tball)"/><circle cx="47" cy="206" r="2.15" fill="url(#gball)"/><circle cx="50" cy="200.6" r="1.7" fill="url(#tball)"/><circle cx="52.9" cy="195.3" r="2.15" fill="url(#gball)"/><circle cx="57.2" cy="204.5" r="2.15" fill="url(#gball)"/><circle cx="60.6" cy="199.2" r="1.7" fill="url(#tball)"/><circle cx="63.6" cy="192.9" r="2.15" fill="url(#gball)"/><circle cx="66.5" cy="199.2" r="1.7" fill="url(#tball)"/><circle cx="68.9" cy="204.5" r="2.15" fill="url(#gball)"/><circle cx="74.3" cy="195.3" r="2.15" fill="url(#gball)"/><circle cx="77.2" cy="200.6" r="1.7" fill="url(#tball)"/><circle cx="80.1" cy="206" r="2.15" fill="url(#gball)"/><circle cx="83.1" cy="200.6" r="1.7" fill="url(#tball)"/><circle cx="86" cy="195.3" r="2.15" fill="url(#gball)"/><circle cx="90.3" cy="204.5" r="2.15" fill="url(#gball)"/><circle cx="93.7" cy="199.2" r="1.7" fill="url(#tball)"/><circle cx="96.7" cy="192.9" r="2.15" fill="url(#gball)"/><circle cx="99.6" cy="199.2" r="1.7" fill="url(#tball)"/><circle cx="102" cy="204.5" r="2.15" fill="url(#gball)"/><circle cx="107.4" cy="195.3" r="2.15" fill="url(#gball)"/><circle cx="110.3" cy="200.6" r="1.7" fill="url(#tball)"/><circle cx="113.2" cy="206" r="2.15" fill="url(#gball)"/><circle cx="116.2" cy="200.6" r="1.7" fill="url(#tball)"/><circle cx="119.1" cy="195.3" r="2.15" fill="url(#gball)"/><circle cx="123.4" cy="204.5" r="2.15" fill="url(#gball)"/><circle cx="126.8" cy="199.2" r="1.7" fill="url(#tball)"/><circle cx="129.8" cy="192.9" r="2.15" fill="url(#gball)"/><circle cx="132.7" cy="199.2" r="1.7" fill="url(#tball)"/><circle cx="135.1" cy="204.5" r="2.15" fill="url(#gball)"/><circle cx="140.5" cy="195.3" r="2.15" fill="url(#gball)"/><circle cx="143.4" cy="200.6" r="1.7" fill="url(#tball)"/><circle cx="146.3" cy="206" r="2.15" fill="url(#gball)"/><circle cx="35.8" cy="225.8" r="2.15" fill="url(#gball)"/><circle cx="41.2" cy="216.6" r="2.15" fill="url(#gball)"/><circle cx="44.1" cy="221.9" r="1.7" fill="url(#tball)"/><circle cx="47" cy="227.3" r="2.15" fill="url(#gball)"/><circle cx="50" cy="221.9" r="1.7" fill="url(#tball)"/><circle cx="52.9" cy="216.6" r="2.15" fill="url(#gball)"/><circle cx="57.2" cy="225.8" r="2.15" fill="url(#gball)"/><circle cx="60.6" cy="220.5" r="1.7" fill="url(#tball)"/><circle cx="63.6" cy="214.2" r="2.15" fill="url(#gball)"/><circle cx="66.5" cy="220.5" r="1.7" fill="url(#tball)"/><circle cx="68.9" cy="225.8" r="2.15" fill="url(#gball)"/><circle cx="74.3" cy="216.6" r="2.15" fill="url(#gball)"/><circle cx="77.2" cy="221.9" r="1.7" fill="url(#tball)"/><circle cx="80.1" cy="227.3" r="2.15" fill="url(#gball)"/><circle cx="83.1" cy="221.9" r="1.7" fill="url(#tball)"/><circle cx="86" cy="216.6" r="2.15" fill="url(#gball)"/><circle cx="90.3" cy="225.8" r="2.15" fill="url(#gball)"/><circle cx="93.7" cy="220.5" r="1.7" fill="url(#tball)"/><circle cx="96.7" cy="214.2" r="2.15" fill="url(#gball)"/><circle cx="99.6" cy="220.5" r="1.7" fill="url(#tball)"/><circle cx="102" cy="225.8" r="2.15" fill="url(#gball)"/><circle cx="107.4" cy="216.6" r="2.15" fill="url(#gball)"/><circle cx="110.3" cy="221.9" r="1.7" fill="url(#tball)"/><circle cx="113.2" cy="227.3" r="2.15" fill="url(#gball)"/><circle cx="116.2" cy="221.9" r="1.7" fill="url(#tball)"/><circle cx="119.1" cy="216.6" r="2.15" fill="url(#gball)"/><circle cx="123.4" cy="225.8" r="2.15" fill="url(#gball)"/><circle cx="126.8" cy="220.5" r="1.7" fill="url(#tball)"/><circle cx="129.8" cy="214.2" r="2.15" fill="url(#gball)"/><circle cx="132.7" cy="220.5" r="1.7" fill="url(#tball)"/><circle cx="135.1" cy="225.8" r="2.15" fill="url(#gball)"/><circle cx="140.5" cy="216.6" r="2.15" fill="url(#gball)"/><circle cx="143.4" cy="221.9" r="1.7" fill="url(#tball)"/><circle cx="146.3" cy="227.3" r="2.15" fill="url(#gball)"/><circle cx="35.8" cy="247.1" r="2.15" fill="url(#gball)"/><circle cx="41.2" cy="237.9" r="2.15" fill="url(#gball)"/><circle cx="44.1" cy="243.2" r="1.7" fill="url(#tball)"/><circle cx="47" cy="248.6" r="2.15" fill="url(#gball)"/><circle cx="50" cy="243.2" r="1.7" fill="url(#tball)"/><circle cx="52.9" cy="237.9" r="2.15" fill="url(#gball)"/><circle cx="57.2" cy="247.1" r="2.15" fill="url(#gball)"/><circle cx="60.6" cy="241.8" r="1.7" fill="url(#tball)"/><circle cx="63.6" cy="235.5" r="2.15" fill="url(#gball)"/><circle cx="66.5" cy="241.8" r="1.7" fill="url(#tball)"/><circle cx="68.9" cy="247.1" r="2.15" fill="url(#gball)"/><circle cx="74.3" cy="237.9" r="2.15" fill="url(#gball)"/><circle cx="77.2" cy="243.2" r="1.7" fill="url(#tball)"/><circle cx="80.1" cy="248.6" r="2.15" fill="url(#gball)"/><circle cx="83.1" cy="243.2" r="1.7" fill="url(#tball)"/><circle cx="86" cy="237.9" r="2.15" fill="url(#gball)"/><circle cx="90.3" cy="247.1" r="2.15" fill="url(#gball)"/><circle cx="93.7" cy="241.8" r="1.7" fill="url(#tball)"/><circle cx="96.7" cy="235.5" r="2.15" fill="url(#gball)"/><circle cx="99.6" cy="241.8" r="1.7" fill="url(#tball)"/><circle cx="102" cy="247.1" r="2.15" fill="url(#gball)"/><circle cx="107.4" cy="237.9" r="2.15" fill="url(#gball)"/><circle cx="110.3" cy="243.2" r="1.7" fill="url(#tball)"/><circle cx="113.2" cy="248.6" r="2.15" fill="url(#gball)"/><circle cx="116.2" cy="243.2" r="1.7" fill="url(#tball)"/><circle cx="119.1" cy="237.9" r="2.15" fill="url(#gball)"/><circle cx="123.4" cy="247.1" r="2.15" fill="url(#gball)"/><circle cx="126.8" cy="241.8" r="1.7" fill="url(#tball)"/><circle cx="129.8" cy="235.5" r="2.15" fill="url(#gball)"/><circle cx="132.7" cy="241.8" r="1.7" fill="url(#tball)"/><circle cx="135.1" cy="247.1" r="2.15" fill="url(#gball)"/><circle cx="140.5" cy="237.9" r="2.15" fill="url(#gball)"/><circle cx="143.4" cy="243.2" r="1.7" fill="url(#tball)"/><circle cx="146.3" cy="248.6" r="2.15" fill="url(#gball)"/><circle cx="35.8" cy="268.4" r="2.15" fill="url(#gball)"/><circle cx="41.2" cy="259.2" r="2.15" fill="url(#gball)"/><circle cx="44.1" cy="264.5" r="1.7" fill="url(#tball)"/><circle cx="47" cy="269.9" r="2.15" fill="url(#gball)"/><circle cx="50" cy="264.5" r="1.7" fill="url(#tball)"/><circle cx="52.9" cy="259.2" r="2.15" fill="url(#gball)"/><circle cx="57.2" cy="268.4" r="2.15" fill="url(#gball)"/><circle cx="60.6" cy="263.1" r="1.7" fill="url(#tball)"/><circle cx="63.6" cy="256.8" r="2.15" fill="url(#gball)"/><circle cx="66.5" cy="263.1" r="1.7" fill="url(#tball)"/><circle cx="68.9" cy="268.4" r="2.15" fill="url(#gball)"/><circle cx="74.3" cy="259.2" r="2.15" fill="url(#gball)"/><circle cx="77.2" cy="264.5" r="1.7" fill="url(#tball)"/><circle cx="80.1" cy="269.9" r="2.15" fill="url(#gball)"/><circle cx="83.1" cy="264.5" r="1.7" fill="url(#tball)"/><circle cx="86" cy="259.2" r="2.15" fill="url(#gball)"/><circle cx="90.3" cy="268.4" r="2.15" fill="url(#gball)"/><circle cx="93.7" cy="263.1" r="1.7" fill="url(#tball)"/><circle cx="96.7" cy="256.8" r="2.15" fill="url(#gball)"/><circle cx="99.6" cy="263.1" r="1.7" fill="url(#tball)"/><circle cx="102" cy="268.4" r="2.15" fill="url(#gball)"/><circle cx="107.4" cy="259.2" r="2.15" fill="url(#gball)"/><circle cx="110.3" cy="264.5" r="1.7" fill="url(#tball)"/><circle cx="113.2" cy="269.9" r="2.15" fill="url(#gball)"/><circle cx="116.2" cy="264.5" r="1.7" fill="url(#tball)"/><circle cx="119.1" cy="259.2" r="2.15" fill="url(#gball)"/><circle cx="123.4" cy="268.4" r="2.15" fill="url(#gball)"/><circle cx="126.8" cy="263.1" r="1.7" fill="url(#tball)"/><circle cx="129.8" cy="256.8" r="2.15" fill="url(#gball)"/><circle cx="132.7" cy="263.1" r="1.7" fill="url(#tball)"/><circle cx="135.1" cy="268.4" r="2.15" fill="url(#gball)"/><circle cx="140.5" cy="259.2" r="2.15" fill="url(#gball)"/><circle cx="143.4" cy="264.5" r="1.7" fill="url(#tball)"/><circle cx="146.3" cy="269.9" r="2.15" fill="url(#gball)"/></g>
<g stroke="#1a2f31" stroke-width="1.3"><line x1="161.9" y1="195.7" x2="157" y2="196.5"/><line x1="161.9" y1="195.7" x2="156.6" y2="204.2"/><line x1="161.9" y1="195.7" x2="170.8" y2="200.5"/><line x1="190.9" y1="196.2" x2="186" y2="197"/><line x1="190.9" y1="196.2" x2="185.6" y2="204.7"/><line x1="190.9" y1="196.2" x2="199.8" y2="201"/><line x1="219.9" y1="196.7" x2="215" y2="197.5"/><line x1="219.9" y1="196.7" x2="214.6" y2="205.2"/><line x1="219.9" y1="196.7" x2="228.8" y2="201.5"/><line x1="248.9" y1="197.2" x2="244" y2="198"/><line x1="248.9" y1="197.2" x2="243.6" y2="205.7"/><line x1="248.9" y1="197.2" x2="257.8" y2="202"/><line x1="162.43" y1="211.4" x2="166.93" y2="211"/><line x1="166.93" y1="211" x2="162.03" y2="219.5"/><line x1="166.93" y1="211" x2="171.33" y2="215.4"/><line x1="171.33" y1="215.4" x2="175.83" y2="215"/><line x1="171.33" y1="215.4" x2="176.23" y2="206.9"/><line x1="191.43" y1="211.9" x2="195.93" y2="211.5"/><line x1="195.93" y1="211.5" x2="191.03" y2="220"/><line x1="195.93" y1="211.5" x2="200.33" y2="215.9"/><line x1="200.33" y1="215.9" x2="204.83" y2="215.5"/><line x1="200.33" y1="215.9" x2="205.23" y2="207.4"/><line x1="220.43" y1="212.4" x2="224.93" y2="212"/><line x1="224.93" y1="212" x2="220.03" y2="220.5"/><line x1="224.93" y1="212" x2="229.33" y2="216.4"/><line x1="229.33" y1="216.4" x2="233.83" y2="216"/><line x1="229.33" y1="216.4" x2="234.23" y2="207.9"/><line x1="249.43" y1="212.9" x2="253.93" y2="212.5"/><line x1="253.93" y1="212.5" x2="249.03" y2="221"/><line x1="253.93" y1="212.5" x2="258.33" y2="216.9"/><line x1="258.33" y1="216.9" x2="262.83" y2="216.5"/><line x1="258.33" y1="216.9" x2="263.23" y2="208.4"/><line x1="167.46" y1="226.7" x2="171.96" y2="226.3"/><line x1="171.96" y1="226.3" x2="167.06" y2="234.8"/><line x1="171.96" y1="226.3" x2="176.36" y2="230.7"/><line x1="176.36" y1="230.7" x2="180.86" y2="230.3"/><line x1="176.36" y1="230.7" x2="181.26" y2="222.2"/><line x1="196.46" y1="227.2" x2="200.96" y2="226.8"/><line x1="200.96" y1="226.8" x2="196.06" y2="235.3"/><line x1="200.96" y1="226.8" x2="205.36" y2="231.2"/><line x1="205.36" y1="231.2" x2="209.86" y2="230.8"/><line x1="205.36" y1="231.2" x2="210.26" y2="222.7"/><line x1="225.46" y1="227.7" x2="229.96" y2="227.3"/><line x1="229.96" y1="227.3" x2="225.06" y2="235.8"/><line x1="229.96" y1="227.3" x2="234.36" y2="231.7"/><line x1="234.36" y1="231.7" x2="238.86" y2="231.3"/><line x1="234.36" y1="231.7" x2="239.26" y2="223.2"/><line x1="254.46" y1="228.2" x2="258.96" y2="227.8"/><line x1="258.96" y1="227.8" x2="254.06" y2="236.3"/><line x1="258.96" y1="227.8" x2="263.36" y2="232.2"/><line x1="263.36" y1="232.2" x2="267.86" y2="231.8"/><line x1="263.36" y1="232.2" x2="268.26" y2="223.7"/><line x1="172.49" y1="242" x2="176.99" y2="241.6"/><line x1="176.99" y1="241.6" x2="172.09" y2="250.1"/><line x1="176.99" y1="241.6" x2="181.39" y2="246"/><line x1="181.39" y1="246" x2="185.89" y2="245.6"/><line x1="181.39" y1="246" x2="186.29" y2="237.5"/><line x1="201.49" y1="242.5" x2="205.99" y2="242.1"/><line x1="205.99" y1="242.1" x2="201.09" y2="250.6"/><line x1="205.99" y1="242.1" x2="210.39" y2="246.5"/><line x1="210.39" y1="246.5" x2="214.89" y2="246.1"/><line x1="210.39" y1="246.5" x2="215.29" y2="238"/><line x1="230.49" y1="243" x2="234.99" y2="242.6"/><line x1="234.99" y1="242.6" x2="230.09" y2="251.1"/><line x1="234.99" y1="242.6" x2="239.39" y2="247"/><line x1="239.39" y1="247" x2="243.89" y2="246.6"/><line x1="239.39" y1="247" x2="244.29" y2="238.5"/><line x1="259.49" y1="243.5" x2="263.99" y2="243.1"/><line x1="263.99" y1="243.1" x2="259.09" y2="251.6"/><line x1="263.99" y1="243.1" x2="268.39" y2="247.5"/><line x1="268.39" y1="247.5" x2="272.89" y2="247.1"/><line x1="268.39" y1="247.5" x2="273.29" y2="239"/><line x1="177.52" y1="257.3" x2="182.02" y2="256.9"/><line x1="182.02" y1="256.9" x2="177.12" y2="265.4"/><line x1="182.02" y1="256.9" x2="186.42" y2="261.3"/><line x1="186.42" y1="261.3" x2="190.92" y2="260.9"/><line x1="186.42" y1="261.3" x2="191.32" y2="252.8"/><line x1="206.52" y1="257.8" x2="211.02" y2="257.4"/><line x1="211.02" y1="257.4" x2="206.12" y2="265.9"/><line x1="211.02" y1="257.4" x2="215.42" y2="261.8"/><line x1="215.42" y1="261.8" x2="219.92" y2="261.4"/><line x1="215.42" y1="261.8" x2="220.32" y2="253.3"/><line x1="235.52" y1="258.3" x2="240.02" y2="257.9"/><line x1="240.02" y1="257.9" x2="235.12" y2="266.4"/><line x1="240.02" y1="257.9" x2="244.42" y2="262.3"/><line x1="244.42" y1="262.3" x2="248.92" y2="261.9"/><line x1="244.42" y1="262.3" x2="249.32" y2="253.8"/><line x1="264.52" y1="258.8" x2="269.02" y2="258.4"/><line x1="269.02" y1="258.4" x2="264.12" y2="266.9"/><line x1="269.02" y1="258.4" x2="273.42" y2="262.8"/><line x1="273.42" y1="262.8" x2="277.92" y2="262.4"/><line x1="273.42" y1="262.8" x2="278.32" y2="254.3"/></g>
<g><circle cx="161.9" cy="195.7" r="1.8" fill="#3cb9be" stroke="#0b3f42" stroke-width="0.7"/><circle cx="157" cy="196.5" r="1.55" fill="#fff" stroke="#1e1e1e" stroke-width="1.0"/><circle cx="156.6" cy="204.2" r="1.55" fill="#fff" stroke="#1e1e1e" stroke-width="1.0"/><circle cx="170.8" cy="200.5" r="1.55" fill="#fff" stroke="#1e1e1e" stroke-width="1.0"/><circle cx="190.9" cy="196.2" r="1.8" fill="#3cb9be" stroke="#0b3f42" stroke-width="0.7"/><circle cx="186" cy="197" r="1.55" fill="#fff" stroke="#1e1e1e" stroke-width="1.0"/><circle cx="185.6" cy="204.7" r="1.55" fill="#fff" stroke="#1e1e1e" stroke-width="1.0"/><circle cx="199.8" cy="201" r="1.55" fill="#fff" stroke="#1e1e1e" stroke-width="1.0"/><circle cx="219.9" cy="196.7" r="1.8" fill="#3cb9be" stroke="#0b3f42" stroke-width="0.7"/><circle cx="215" cy="197.5" r="1.55" fill="#fff" stroke="#1e1e1e" stroke-width="1.0"/><circle cx="214.6" cy="205.2" r="1.55" fill="#fff" stroke="#1e1e1e" stroke-width="1.0"/><circle cx="228.8" cy="201.5" r="1.55" fill="#fff" stroke="#1e1e1e" stroke-width="1.0"/><circle cx="248.9" cy="197.2" r="1.8" fill="#3cb9be" stroke="#0b3f42" stroke-width="0.7"/><circle cx="244" cy="198" r="1.55" fill="#fff" stroke="#1e1e1e" stroke-width="1.0"/><circle cx="243.6" cy="205.7" r="1.55" fill="#fff" stroke="#1e1e1e" stroke-width="1.0"/><circle cx="257.8" cy="202" r="1.55" fill="#fff" stroke="#1e1e1e" stroke-width="1.0"/><circle cx="166.93" cy="211" r="1.8" fill="#3cb9be" stroke="#0b3f42" stroke-width="0.7"/><circle cx="171.33" cy="215.4" r="1.8" fill="#3cb9be" stroke="#0b3f42" stroke-width="0.7"/><circle cx="162.43" cy="211.4" r="1.55" fill="#fff" stroke="#1e1e1e" stroke-width="1.0"/><circle cx="162.03" cy="219.5" r="1.55" fill="#fff" stroke="#1e1e1e" stroke-width="1.0"/><circle cx="175.83" cy="215" r="1.55" fill="#fff" stroke="#1e1e1e" stroke-width="1.0"/><circle cx="176.23" cy="206.9" r="1.55" fill="#fff" stroke="#1e1e1e" stroke-width="1.0"/><circle cx="195.93" cy="211.5" r="1.8" fill="#3cb9be" stroke="#0b3f42" stroke-width="0.7"/><circle cx="200.33" cy="215.9" r="1.8" fill="#3cb9be" stroke="#0b3f42" stroke-width="0.7"/><circle cx="191.43" cy="211.9" r="1.55" fill="#fff" stroke="#1e1e1e" stroke-width="1.0"/><circle cx="191.03" cy="220" r="1.55" fill="#fff" stroke="#1e1e1e" stroke-width="1.0"/><circle cx="204.83" cy="215.5" r="1.55" fill="#fff" stroke="#1e1e1e" stroke-width="1.0"/><circle cx="205.23" cy="207.4" r="1.55" fill="#fff" stroke="#1e1e1e" stroke-width="1.0"/><circle cx="224.93" cy="212" r="1.8" fill="#3cb9be" stroke="#0b3f42" stroke-width="0.7"/><circle cx="229.33" cy="216.4" r="1.8" fill="#3cb9be" stroke="#0b3f42" stroke-width="0.7"/><circle cx="220.43" cy="212.4" r="1.55" fill="#fff" stroke="#1e1e1e" stroke-width="1.0"/><circle cx="220.03" cy="220.5" r="1.55" fill="#fff" stroke="#1e1e1e" stroke-width="1.0"/><circle cx="233.83" cy="216" r="1.55" fill="#fff" stroke="#1e1e1e" stroke-width="1.0"/><circle cx="234.23" cy="207.9" r="1.55" fill="#fff" stroke="#1e1e1e" stroke-width="1.0"/><circle cx="253.93" cy="212.5" r="1.8" fill="#3cb9be" stroke="#0b3f42" stroke-width="0.7"/><circle cx="258.33" cy="216.9" r="1.8" fill="#3cb9be" stroke="#0b3f42" stroke-width="0.7"/><circle cx="249.43" cy="212.9" r="1.55" fill="#fff" stroke="#1e1e1e" stroke-width="1.0"/><circle cx="249.03" cy="221" r="1.55" fill="#fff" stroke="#1e1e1e" stroke-width="1.0"/><circle cx="262.83" cy="216.5" r="1.55" fill="#fff" stroke="#1e1e1e" stroke-width="1.0"/><circle cx="263.23" cy="208.4" r="1.55" fill="#fff" stroke="#1e1e1e" stroke-width="1.0"/><circle cx="171.96" cy="226.3" r="1.8" fill="#3cb9be" stroke="#0b3f42" stroke-width="0.7"/><circle cx="176.36" cy="230.7" r="1.8" fill="#3cb9be" stroke="#0b3f42" stroke-width="0.7"/><circle cx="167.46" cy="226.7" r="1.55" fill="#fff" stroke="#1e1e1e" stroke-width="1.0"/><circle cx="167.06" cy="234.8" r="1.55" fill="#fff" stroke="#1e1e1e" stroke-width="1.0"/><circle cx="180.86" cy="230.3" r="1.55" fill="#fff" stroke="#1e1e1e" stroke-width="1.0"/><circle cx="181.26" cy="222.2" r="1.55" fill="#fff" stroke="#1e1e1e" stroke-width="1.0"/><circle cx="200.96" cy="226.8" r="1.8" fill="#3cb9be" stroke="#0b3f42" stroke-width="0.7"/><circle cx="205.36" cy="231.2" r="1.8" fill="#3cb9be" stroke="#0b3f42" stroke-width="0.7"/><circle cx="196.46" cy="227.2" r="1.55" fill="#fff" stroke="#1e1e1e" stroke-width="1.0"/><circle cx="196.06" cy="235.3" r="1.55" fill="#fff" stroke="#1e1e1e" stroke-width="1.0"/><circle cx="209.86" cy="230.8" r="1.55" fill="#fff" stroke="#1e1e1e" stroke-width="1.0"/><circle cx="210.26" cy="222.7" r="1.55" fill="#fff" stroke="#1e1e1e" stroke-width="1.0"/><circle cx="229.96" cy="227.3" r="1.8" fill="#3cb9be" stroke="#0b3f42" stroke-width="0.7"/><circle cx="234.36" cy="231.7" r="1.8" fill="#3cb9be" stroke="#0b3f42" stroke-width="0.7"/><circle cx="225.46" cy="227.7" r="1.55" fill="#fff" stroke="#1e1e1e" stroke-width="1.0"/><circle cx="225.06" cy="235.8" r="1.55" fill="#fff" stroke="#1e1e1e" stroke-width="1.0"/><circle cx="238.86" cy="231.3" r="1.55" fill="#fff" stroke="#1e1e1e" stroke-width="1.0"/><circle cx="239.26" cy="223.2" r="1.55" fill="#fff" stroke="#1e1e1e" stroke-width="1.0"/><circle cx="258.96" cy="227.8" r="1.8" fill="#3cb9be" stroke="#0b3f42" stroke-width="0.7"/><circle cx="263.36" cy="232.2" r="1.8" fill="#3cb9be" stroke="#0b3f42" stroke-width="0.7"/><circle cx="254.46" cy="228.2" r="1.55" fill="#fff" stroke="#1e1e1e" stroke-width="1.0"/><circle cx="254.06" cy="236.3" r="1.55" fill="#fff" stroke="#1e1e1e" stroke-width="1.0"/><circle cx="267.86" cy="231.8" r="1.55" fill="#fff" stroke="#1e1e1e" stroke-width="1.0"/><circle cx="268.26" cy="223.7" r="1.55" fill="#fff" stroke="#1e1e1e" stroke-width="1.0"/><circle cx="176.99" cy="241.6" r="1.8" fill="#3cb9be" stroke="#0b3f42" stroke-width="0.7"/><circle cx="181.39" cy="246" r="1.8" fill="#3cb9be" stroke="#0b3f42" stroke-width="0.7"/><circle cx="172.49" cy="242" r="1.55" fill="#fff" stroke="#1e1e1e" stroke-width="1.0"/><circle cx="172.09" cy="250.1" r="1.55" fill="#fff" stroke="#1e1e1e" stroke-width="1.0"/><circle cx="185.89" cy="245.6" r="1.55" fill="#fff" stroke="#1e1e1e" stroke-width="1.0"/><circle cx="186.29" cy="237.5" r="1.55" fill="#fff" stroke="#1e1e1e" stroke-width="1.0"/><circle cx="205.99" cy="242.1" r="1.8" fill="#3cb9be" stroke="#0b3f42" stroke-width="0.7"/><circle cx="210.39" cy="246.5" r="1.8" fill="#3cb9be" stroke="#0b3f42" stroke-width="0.7"/><circle cx="201.49" cy="242.5" r="1.55" fill="#fff" stroke="#1e1e1e" stroke-width="1.0"/><circle cx="201.09" cy="250.6" r="1.55" fill="#fff" stroke="#1e1e1e" stroke-width="1.0"/><circle cx="214.89" cy="246.1" r="1.55" fill="#fff" stroke="#1e1e1e" stroke-width="1.0"/><circle cx="215.29" cy="238" r="1.55" fill="#fff" stroke="#1e1e1e" stroke-width="1.0"/><circle cx="234.99" cy="242.6" r="1.8" fill="#3cb9be" stroke="#0b3f42" stroke-width="0.7"/><circle cx="239.39" cy="247" r="1.8" fill="#3cb9be" stroke="#0b3f42" stroke-width="0.7"/><circle cx="230.49" cy="243" r="1.55" fill="#fff" stroke="#1e1e1e" stroke-width="1.0"/><circle cx="230.09" cy="251.1" r="1.55" fill="#fff" stroke="#1e1e1e" stroke-width="1.0"/><circle cx="243.89" cy="246.6" r="1.55" fill="#fff" stroke="#1e1e1e" stroke-width="1.0"/><circle cx="244.29" cy="238.5" r="1.55" fill="#fff" stroke="#1e1e1e" stroke-width="1.0"/><circle cx="263.99" cy="243.1" r="1.8" fill="#3cb9be" stroke="#0b3f42" stroke-width="0.7"/><circle cx="268.39" cy="247.5" r="1.8" fill="#3cb9be" stroke="#0b3f42" stroke-width="0.7"/><circle cx="259.49" cy="243.5" r="1.55" fill="#fff" stroke="#1e1e1e" stroke-width="1.0"/><circle cx="259.09" cy="251.6" r="1.55" fill="#fff" stroke="#1e1e1e" stroke-width="1.0"/><circle cx="272.89" cy="247.1" r="1.55" fill="#fff" stroke="#1e1e1e" stroke-width="1.0"/><circle cx="273.29" cy="239" r="1.55" fill="#fff" stroke="#1e1e1e" stroke-width="1.0"/><circle cx="182.02" cy="256.9" r="1.8" fill="#3cb9be" stroke="#0b3f42" stroke-width="0.7"/><circle cx="186.42" cy="261.3" r="1.8" fill="#3cb9be" stroke="#0b3f42" stroke-width="0.7"/><circle cx="177.52" cy="257.3" r="1.55" fill="#fff" stroke="#1e1e1e" stroke-width="1.0"/><circle cx="177.12" cy="265.4" r="1.55" fill="#fff" stroke="#1e1e1e" stroke-width="1.0"/><circle cx="190.92" cy="260.9" r="1.55" fill="#fff" stroke="#1e1e1e" stroke-width="1.0"/><circle cx="191.32" cy="252.8" r="1.55" fill="#fff" stroke="#1e1e1e" stroke-width="1.0"/><circle cx="211.02" cy="257.4" r="1.8" fill="#3cb9be" stroke="#0b3f42" stroke-width="0.7"/><circle cx="215.42" cy="261.8" r="1.8" fill="#3cb9be" stroke="#0b3f42" stroke-width="0.7"/><circle cx="206.52" cy="257.8" r="1.55" fill="#fff" stroke="#1e1e1e" stroke-width="1.0"/><circle cx="206.12" cy="265.9" r="1.55" fill="#fff" stroke="#1e1e1e" stroke-width="1.0"/><circle cx="219.92" cy="261.4" r="1.55" fill="#fff" stroke="#1e1e1e" stroke-width="1.0"/><circle cx="220.32" cy="253.3" r="1.55" fill="#fff" stroke="#1e1e1e" stroke-width="1.0"/><circle cx="240.02" cy="257.9" r="1.8" fill="#3cb9be" stroke="#0b3f42" stroke-width="0.7"/><circle cx="244.42" cy="262.3" r="1.8" fill="#3cb9be" stroke="#0b3f42" stroke-width="0.7"/><circle cx="235.52" cy="258.3" r="1.55" fill="#fff" stroke="#1e1e1e" stroke-width="1.0"/><circle cx="235.12" cy="266.4" r="1.55" fill="#fff" stroke="#1e1e1e" stroke-width="1.0"/><circle cx="248.92" cy="261.9" r="1.55" fill="#fff" stroke="#1e1e1e" stroke-width="1.0"/><circle cx="249.32" cy="253.8" r="1.55" fill="#fff" stroke="#1e1e1e" stroke-width="1.0"/><circle cx="269.02" cy="258.4" r="1.8" fill="#3cb9be" stroke="#0b3f42" stroke-width="0.7"/><circle cx="273.42" cy="262.8" r="1.8" fill="#3cb9be" stroke="#0b3f42" stroke-width="0.7"/><circle cx="264.52" cy="258.8" r="1.55" fill="#fff" stroke="#1e1e1e" stroke-width="1.0"/><circle cx="264.12" cy="266.9" r="1.55" fill="#fff" stroke="#1e1e1e" stroke-width="1.0"/><circle cx="277.92" cy="262.4" r="1.55" fill="#fff" stroke="#1e1e1e" stroke-width="1.0"/><circle cx="278.32" cy="254.3" r="1.55" fill="#fff" stroke="#1e1e1e" stroke-width="1.0"/></g>
<path d="M344.5,173.2 L342.1,176 M349.7,168 L352.5,165.6 M349.7,173.2 L352.5,176 M344.5,178.8 L342.1,176 M349.7,184 L352.5,186.4 M349.7,178.8 L352.5,176 M360.5,173.2 L362.9,176 M355.3,168 L352.5,165.6 M355.3,173.2 L352.5,176 M360.5,178.8 L362.9,176 M355.3,184 L352.5,186.4 M355.3,178.8 L352.5,176 M332.4,185.5 L330,188.3 M337.6,180.3 L340.4,177.9 M337.6,185.5 L340.4,188.3 M332.4,191.1 L330,188.3 M337.6,196.3 L340.4,198.7 M337.6,191.1 L340.4,188.3 M348.4,185.5 L350.8,188.3 M343.2,180.3 L340.4,177.9 M343.2,185.5 L340.4,188.3 M348.4,191.1 L350.8,188.3 M343.2,196.3 L340.4,198.7 M343.2,191.1 L340.4,188.3 M344.5,198.2 L342.1,201 M349.7,193 L352.5,190.6 M349.7,198.2 L352.5,201 M344.5,203.8 L342.1,201 M349.7,209 L352.5,211.4 M349.7,203.8 L352.5,201 M360.5,198.2 L362.9,201 M355.3,193 L352.5,190.6 M355.3,198.2 L352.5,201 M360.5,203.8 L362.9,201 M355.3,209 L352.5,211.4 M355.3,203.8 L352.5,201 M332.4,210.5 L330,213.3 M337.6,205.3 L340.4,202.9 M337.6,210.5 L340.4,213.3 M332.4,216.1 L330,213.3 M337.6,221.3 L340.4,223.7 M337.6,216.1 L340.4,213.3 M348.4,210.5 L350.8,213.3 M343.2,205.3 L340.4,202.9 M343.2,210.5 L340.4,213.3 M348.4,216.1 L350.8,213.3 M343.2,221.3 L340.4,223.7 M343.2,216.1 L340.4,213.3 M344.5,223.2 L342.1,226 M349.7,218 L352.5,215.6 M349.7,223.2 L352.5,226 M344.5,228.8 L342.1,226 M349.7,234 L352.5,236.4 M349.7,228.8 L352.5,226 M360.5,223.2 L362.9,226 M355.3,218 L352.5,215.6 M355.3,223.2 L352.5,226 M360.5,228.8 L362.9,226 M355.3,234 L352.5,236.4 M355.3,228.8 L352.5,226 M332.4,235.5 L330,238.3 M337.6,230.3 L340.4,227.9 M337.6,235.5 L340.4,238.3 M332.4,241.1 L330,238.3 M337.6,246.3 L340.4,248.7 M337.6,241.1 L340.4,238.3 M348.4,235.5 L350.8,238.3 M343.2,230.3 L340.4,227.9 M343.2,235.5 L340.4,238.3 M348.4,241.1 L350.8,238.3 M343.2,246.3 L340.4,248.7 M343.2,241.1 L340.4,238.3 M369.5,173.2 L367.1,176 M374.7,168 L377.5,165.6 M374.7,173.2 L377.5,176 M369.5,178.8 L367.1,176 M374.7,184 L377.5,186.4 M374.7,178.8 L377.5,176 M385.5,173.2 L387.9,176 M380.3,168 L377.5,165.6 M380.3,173.2 L377.5,176 M385.5,178.8 L387.9,176 M380.3,184 L377.5,186.4 M380.3,178.8 L377.5,176 M357.4,185.5 L355,188.3 M362.6,180.3 L365.4,177.9 M362.6,185.5 L365.4,188.3 M357.4,191.1 L355,188.3 M362.6,196.3 L365.4,198.7 M362.6,191.1 L365.4,188.3 M373.4,185.5 L375.8,188.3 M368.2,180.3 L365.4,177.9 M368.2,185.5 L365.4,188.3 M373.4,191.1 L375.8,188.3 M368.2,196.3 L365.4,198.7 M368.2,191.1 L365.4,188.3 M369.5,198.2 L367.1,201 M374.7,193 L377.5,190.6 M374.7,198.2 L377.5,201 M369.5,203.8 L367.1,201 M374.7,209 L377.5,211.4 M374.7,203.8 L377.5,201 M385.5,198.2 L387.9,201 M380.3,193 L377.5,190.6 M380.3,198.2 L377.5,201 M385.5,203.8 L387.9,201 M380.3,209 L377.5,211.4 M380.3,203.8 L377.5,201 M357.4,210.5 L355,213.3 M362.6,205.3 L365.4,202.9 M362.6,210.5 L365.4,213.3 M357.4,216.1 L355,213.3 M362.6,221.3 L365.4,223.7 M362.6,216.1 L365.4,213.3 M373.4,210.5 L375.8,213.3 M368.2,205.3 L365.4,202.9 M368.2,210.5 L365.4,213.3 M373.4,216.1 L375.8,213.3 M368.2,221.3 L365.4,223.7 M368.2,216.1 L365.4,213.3 M369.5,223.2 L367.1,226 M374.7,218 L377.5,215.6 M374.7,223.2 L377.5,226 M369.5,228.8 L367.1,226 M374.7,234 L377.5,236.4 M374.7,228.8 L377.5,226 M385.5,223.2 L387.9,226 M380.3,218 L377.5,215.6 M380.3,223.2 L377.5,226 M385.5,228.8 L387.9,226 M380.3,234 L377.5,236.4 M380.3,228.8 L377.5,226 M357.4,235.5 L355,238.3 M362.6,230.3 L365.4,227.9 M362.6,235.5 L365.4,238.3 M357.4,241.1 L355,238.3 M362.6,246.3 L365.4,248.7 M362.6,241.1 L365.4,238.3 M373.4,235.5 L375.8,238.3 M368.2,230.3 L365.4,227.9 M368.2,235.5 L365.4,238.3 M373.4,241.1 L375.8,238.3 M368.2,246.3 L365.4,248.7 M368.2,241.1 L365.4,238.3 M394.5,173.2 L392.1,176 M399.7,168 L402.5,165.6 M399.7,173.2 L402.5,176 M394.5,178.8 L392.1,176 M399.7,184 L402.5,186.4 M399.7,178.8 L402.5,176 M410.5,173.2 L412.9,176 M405.3,168 L402.5,165.6 M405.3,173.2 L402.5,176 M410.5,178.8 L412.9,176 M405.3,184 L402.5,186.4 M405.3,178.8 L402.5,176 M382.4,185.5 L380,188.3 M387.6,180.3 L390.4,177.9 M387.6,185.5 L390.4,188.3 M382.4,191.1 L380,188.3 M387.6,196.3 L390.4,198.7 M387.6,191.1 L390.4,188.3 M398.4,185.5 L400.8,188.3 M393.2,180.3 L390.4,177.9 M393.2,185.5 L390.4,188.3 M398.4,191.1 L400.8,188.3 M393.2,196.3 L390.4,198.7 M393.2,191.1 L390.4,188.3 M394.5,198.2 L392.1,201 M399.7,193 L402.5,190.6 M399.7,198.2 L402.5,201 M394.5,203.8 L392.1,201 M399.7,209 L402.5,211.4 M399.7,203.8 L402.5,201 M410.5,198.2 L412.9,201 M405.3,193 L402.5,190.6 M405.3,198.2 L402.5,201 M410.5,203.8 L412.9,201 M405.3,209 L402.5,211.4 M405.3,203.8 L402.5,201 M382.4,210.5 L380,213.3 M387.6,205.3 L390.4,202.9 M387.6,210.5 L390.4,213.3 M382.4,216.1 L380,213.3 M387.6,221.3 L390.4,223.7 M387.6,216.1 L390.4,213.3 M398.4,210.5 L400.8,213.3 M393.2,205.3 L390.4,202.9 M393.2,210.5 L390.4,213.3 M398.4,216.1 L400.8,213.3 M393.2,221.3 L390.4,223.7 M393.2,216.1 L390.4,213.3 M394.5,223.2 L392.1,226 M399.7,218 L402.5,215.6 M399.7,223.2 L402.5,226 M394.5,228.8 L392.1,226 M399.7,234 L402.5,236.4 M399.7,228.8 L402.5,226 M410.5,223.2 L412.9,226 M405.3,218 L402.5,215.6 M405.3,223.2 L402.5,226 M410.5,228.8 L412.9,226 M405.3,234 L402.5,236.4 M405.3,228.8 L402.5,226 M382.4,235.5 L380,238.3 M387.6,230.3 L390.4,227.9 M387.6,235.5 L390.4,238.3 M382.4,241.1 L380,238.3 M387.6,246.3 L390.4,248.7 M387.6,241.1 L390.4,238.3 M398.4,235.5 L400.8,238.3 M393.2,230.3 L390.4,227.9 M393.2,235.5 L390.4,238.3 M398.4,241.1 L400.8,238.3 M393.2,246.3 L390.4,248.7 M393.2,241.1 L390.4,238.3" fill="none" stroke="#6a1872" stroke-width="1.8" stroke-linecap="round"/>
<path d="M346.9,170.4 L344.5,173.2 M346.9,170.4 L349.7,168 M346.9,170.4 L349.7,173.2 M346.9,181.6 L344.5,178.8 M346.9,181.6 L349.7,184 M346.9,181.6 L349.7,178.8 M358.1,170.4 L360.5,173.2 M358.1,170.4 L355.3,168 M358.1,170.4 L355.3,173.2 M358.1,181.6 L360.5,178.8 M358.1,181.6 L355.3,184 M358.1,181.6 L355.3,178.8 M334.8,182.7 L332.4,185.5 M334.8,182.7 L337.6,180.3 M334.8,182.7 L337.6,185.5 M334.8,193.9 L332.4,191.1 M334.8,193.9 L337.6,196.3 M334.8,193.9 L337.6,191.1 M346,182.7 L348.4,185.5 M346,182.7 L343.2,180.3 M346,182.7 L343.2,185.5 M346,193.9 L348.4,191.1 M346,193.9 L343.2,196.3 M346,193.9 L343.2,191.1 M346.9,195.4 L344.5,198.2 M346.9,195.4 L349.7,193 M346.9,195.4 L349.7,198.2 M346.9,206.6 L344.5,203.8 M346.9,206.6 L349.7,209 M346.9,206.6 L349.7,203.8 M358.1,195.4 L360.5,198.2 M358.1,195.4 L355.3,193 M358.1,195.4 L355.3,198.2 M358.1,206.6 L360.5,203.8 M358.1,206.6 L355.3,209 M358.1,206.6 L355.3,203.8 M334.8,207.7 L332.4,210.5 M334.8,207.7 L337.6,205.3 M334.8,207.7 L337.6,210.5 M334.8,218.9 L332.4,216.1 M334.8,218.9 L337.6,221.3 M334.8,218.9 L337.6,216.1 M346,207.7 L348.4,210.5 M346,207.7 L343.2,205.3 M346,207.7 L343.2,210.5 M346,218.9 L348.4,216.1 M346,218.9 L343.2,221.3 M346,218.9 L343.2,216.1 M346.9,220.4 L344.5,223.2 M346.9,220.4 L349.7,218 M346.9,220.4 L349.7,223.2 M346.9,231.6 L344.5,228.8 M346.9,231.6 L349.7,234 M346.9,231.6 L349.7,228.8 M358.1,220.4 L360.5,223.2 M358.1,220.4 L355.3,218 M358.1,220.4 L355.3,223.2 M358.1,231.6 L360.5,228.8 M358.1,231.6 L355.3,234 M358.1,231.6 L355.3,228.8 M334.8,232.7 L332.4,235.5 M334.8,232.7 L337.6,230.3 M334.8,232.7 L337.6,235.5 M334.8,243.9 L332.4,241.1 M334.8,243.9 L337.6,246.3 M334.8,243.9 L337.6,241.1 M346,232.7 L348.4,235.5 M346,232.7 L343.2,230.3 M346,232.7 L343.2,235.5 M346,243.9 L348.4,241.1 M346,243.9 L343.2,246.3 M346,243.9 L343.2,241.1 M371.9,170.4 L369.5,173.2 M371.9,170.4 L374.7,168 M371.9,170.4 L374.7,173.2 M371.9,181.6 L369.5,178.8 M371.9,181.6 L374.7,184 M371.9,181.6 L374.7,178.8 M383.1,170.4 L385.5,173.2 M383.1,170.4 L380.3,168 M383.1,170.4 L380.3,173.2 M383.1,181.6 L385.5,178.8 M383.1,181.6 L380.3,184 M383.1,181.6 L380.3,178.8 M359.8,182.7 L357.4,185.5 M359.8,182.7 L362.6,180.3 M359.8,182.7 L362.6,185.5 M359.8,193.9 L357.4,191.1 M359.8,193.9 L362.6,196.3 M359.8,193.9 L362.6,191.1 M371,182.7 L373.4,185.5 M371,182.7 L368.2,180.3 M371,182.7 L368.2,185.5 M371,193.9 L373.4,191.1 M371,193.9 L368.2,196.3 M371,193.9 L368.2,191.1 M371.9,195.4 L369.5,198.2 M371.9,195.4 L374.7,193 M371.9,195.4 L374.7,198.2 M371.9,206.6 L369.5,203.8 M371.9,206.6 L374.7,209 M371.9,206.6 L374.7,203.8 M383.1,195.4 L385.5,198.2 M383.1,195.4 L380.3,193 M383.1,195.4 L380.3,198.2 M383.1,206.6 L385.5,203.8 M383.1,206.6 L380.3,209 M383.1,206.6 L380.3,203.8 M359.8,207.7 L357.4,210.5 M359.8,207.7 L362.6,205.3 M359.8,207.7 L362.6,210.5 M359.8,218.9 L357.4,216.1 M359.8,218.9 L362.6,221.3 M359.8,218.9 L362.6,216.1 M371,207.7 L373.4,210.5 M371,207.7 L368.2,205.3 M371,207.7 L368.2,210.5 M371,218.9 L373.4,216.1 M371,218.9 L368.2,221.3 M371,218.9 L368.2,216.1 M371.9,220.4 L369.5,223.2 M371.9,220.4 L374.7,218 M371.9,220.4 L374.7,223.2 M371.9,231.6 L369.5,228.8 M371.9,231.6 L374.7,234 M371.9,231.6 L374.7,228.8 M383.1,220.4 L385.5,223.2 M383.1,220.4 L380.3,218 M383.1,220.4 L380.3,223.2 M383.1,231.6 L385.5,228.8 M383.1,231.6 L380.3,234 M383.1,231.6 L380.3,228.8 M359.8,232.7 L357.4,235.5 M359.8,232.7 L362.6,230.3 M359.8,232.7 L362.6,235.5 M359.8,243.9 L357.4,241.1 M359.8,243.9 L362.6,246.3 M359.8,243.9 L362.6,241.1 M371,232.7 L373.4,235.5 M371,232.7 L368.2,230.3 M371,232.7 L368.2,235.5 M371,243.9 L373.4,241.1 M371,243.9 L368.2,246.3 M371,243.9 L368.2,241.1 M396.9,170.4 L394.5,173.2 M396.9,170.4 L399.7,168 M396.9,170.4 L399.7,173.2 M396.9,181.6 L394.5,178.8 M396.9,181.6 L399.7,184 M396.9,181.6 L399.7,178.8 M408.1,170.4 L410.5,173.2 M408.1,170.4 L405.3,168 M408.1,170.4 L405.3,173.2 M408.1,181.6 L410.5,178.8 M408.1,181.6 L405.3,184 M408.1,181.6 L405.3,178.8 M384.8,182.7 L382.4,185.5 M384.8,182.7 L387.6,180.3 M384.8,182.7 L387.6,185.5 M384.8,193.9 L382.4,191.1 M384.8,193.9 L387.6,196.3 M384.8,193.9 L387.6,191.1 M396,182.7 L398.4,185.5 M396,182.7 L393.2,180.3 M396,182.7 L393.2,185.5 M396,193.9 L398.4,191.1 M396,193.9 L393.2,196.3 M396,193.9 L393.2,191.1 M396.9,195.4 L394.5,198.2 M396.9,195.4 L399.7,193 M396.9,195.4 L399.7,198.2 M396.9,206.6 L394.5,203.8 M396.9,206.6 L399.7,209 M396.9,206.6 L399.7,203.8 M408.1,195.4 L410.5,198.2 M408.1,195.4 L405.3,193 M408.1,195.4 L405.3,198.2 M408.1,206.6 L410.5,203.8 M408.1,206.6 L405.3,209 M408.1,206.6 L405.3,203.8 M384.8,207.7 L382.4,210.5 M384.8,207.7 L387.6,205.3 M384.8,207.7 L387.6,210.5 M384.8,218.9 L382.4,216.1 M384.8,218.9 L387.6,221.3 M384.8,218.9 L387.6,216.1 M396,207.7 L398.4,210.5 M396,207.7 L393.2,205.3 M396,207.7 L393.2,210.5 M396,218.9 L398.4,216.1 M396,218.9 L393.2,221.3 M396,218.9 L393.2,216.1 M396.9,220.4 L394.5,223.2 M396.9,220.4 L399.7,218 M396.9,220.4 L399.7,223.2 M396.9,231.6 L394.5,228.8 M396.9,231.6 L399.7,234 M396.9,231.6 L399.7,228.8 M408.1,220.4 L410.5,223.2 M408.1,220.4 L405.3,218 M408.1,220.4 L405.3,223.2 M408.1,231.6 L410.5,228.8 M408.1,231.6 L405.3,234 M408.1,231.6 L405.3,228.8 M384.8,232.7 L382.4,235.5 M384.8,232.7 L387.6,230.3 M384.8,232.7 L387.6,235.5 M384.8,243.9 L382.4,241.1 M384.8,243.9 L387.6,246.3 M384.8,243.9 L387.6,241.1 M396,232.7 L398.4,235.5 M396,232.7 L393.2,230.3 M396,232.7 L393.2,235.5 M396,243.9 L398.4,241.1 M396,243.9 L393.2,246.3 M396,243.9 L393.2,241.1" fill="none" stroke="#145458" stroke-width="1.8" stroke-linecap="round"/>
<g fill="#55d6da" stroke="#0e4a4e" stroke-width="1.3"><circle cx="346.9" cy="170.4" r="2.0"/><circle cx="346.9" cy="181.6" r="2.0"/><circle cx="358.1" cy="170.4" r="2.0"/><circle cx="358.1" cy="181.6" r="2.0"/><circle cx="334.8" cy="182.7" r="2.0"/><circle cx="334.8" cy="193.9" r="2.0"/><circle cx="346" cy="182.7" r="2.0"/><circle cx="346" cy="193.9" r="2.0"/><circle cx="346.9" cy="195.4" r="2.0"/><circle cx="346.9" cy="206.6" r="2.0"/><circle cx="358.1" cy="195.4" r="2.0"/><circle cx="358.1" cy="206.6" r="2.0"/><circle cx="334.8" cy="207.7" r="2.0"/><circle cx="334.8" cy="218.9" r="2.0"/><circle cx="346" cy="207.7" r="2.0"/><circle cx="346" cy="218.9" r="2.0"/><circle cx="346.9" cy="220.4" r="2.0"/><circle cx="346.9" cy="231.6" r="2.0"/><circle cx="358.1" cy="220.4" r="2.0"/><circle cx="358.1" cy="231.6" r="2.0"/><circle cx="334.8" cy="232.7" r="2.0"/><circle cx="334.8" cy="243.9" r="2.0"/><circle cx="346" cy="232.7" r="2.0"/><circle cx="346" cy="243.9" r="2.0"/><circle cx="371.9" cy="170.4" r="2.0"/><circle cx="371.9" cy="181.6" r="2.0"/><circle cx="383.1" cy="170.4" r="2.0"/><circle cx="383.1" cy="181.6" r="2.0"/><circle cx="359.8" cy="182.7" r="2.0"/><circle cx="359.8" cy="193.9" r="2.0"/><circle cx="371" cy="182.7" r="2.0"/><circle cx="371" cy="193.9" r="2.0"/><circle cx="371.9" cy="195.4" r="2.0"/><circle cx="371.9" cy="206.6" r="2.0"/><circle cx="383.1" cy="195.4" r="2.0"/><circle cx="383.1" cy="206.6" r="2.0"/><circle cx="359.8" cy="207.7" r="2.0"/><circle cx="359.8" cy="218.9" r="2.0"/><circle cx="371" cy="207.7" r="2.0"/><circle cx="371" cy="218.9" r="2.0"/><circle cx="371.9" cy="220.4" r="2.0"/><circle cx="371.9" cy="231.6" r="2.0"/><circle cx="383.1" cy="220.4" r="2.0"/><circle cx="383.1" cy="231.6" r="2.0"/><circle cx="359.8" cy="232.7" r="2.0"/><circle cx="359.8" cy="243.9" r="2.0"/><circle cx="371" cy="232.7" r="2.0"/><circle cx="371" cy="243.9" r="2.0"/><circle cx="396.9" cy="170.4" r="2.0"/><circle cx="396.9" cy="181.6" r="2.0"/><circle cx="408.1" cy="170.4" r="2.0"/><circle cx="408.1" cy="181.6" r="2.0"/><circle cx="384.8" cy="182.7" r="2.0"/><circle cx="384.8" cy="193.9" r="2.0"/><circle cx="396" cy="182.7" r="2.0"/><circle cx="396" cy="193.9" r="2.0"/><circle cx="396.9" cy="195.4" r="2.0"/><circle cx="396.9" cy="206.6" r="2.0"/><circle cx="408.1" cy="195.4" r="2.0"/><circle cx="408.1" cy="206.6" r="2.0"/><circle cx="384.8" cy="207.7" r="2.0"/><circle cx="384.8" cy="218.9" r="2.0"/><circle cx="396" cy="207.7" r="2.0"/><circle cx="396" cy="218.9" r="2.0"/><circle cx="396.9" cy="220.4" r="2.0"/><circle cx="396.9" cy="231.6" r="2.0"/><circle cx="408.1" cy="220.4" r="2.0"/><circle cx="408.1" cy="231.6" r="2.0"/><circle cx="384.8" cy="232.7" r="2.0"/><circle cx="384.8" cy="243.9" r="2.0"/><circle cx="396" cy="232.7" r="2.0"/><circle cx="396" cy="243.9" r="2.0"/></g>
<path d="M468.55,191.9 L470.6,189 M474.4,188 L470.6,189 M481.8,188 L485.4,189 M487.3,191.9 L485.4,189 M487.3,197.5 L485.4,200.2 M481.8,201.05 L485.4,200.2 M474.4,201.05 L470.6,200.2 M468.55,197.5 L470.6,200.2 M477,190.75 L475.8,194.5 M477,198.2 L475.8,194.5 M479.4,190.75 L480.6,194.5 M479.4,198.2 L480.6,194.5 M464.55,194.8 L462.6,194.8 M491.3,194.8 L493.4,194.8 M492.35,209.3 L494.4,206.4 M498.2,205.4 L494.4,206.4 M505.6,205.4 L509.2,206.4 M511.1,209.3 L509.2,206.4 M511.1,214.9 L509.2,217.6 M505.6,218.45 L509.2,217.6 M498.2,218.45 L494.4,217.6 M492.35,214.9 L494.4,217.6 M500.8,208.15 L499.6,211.9 M500.8,215.6 L499.6,211.9 M503.2,208.15 L504.4,211.9 M503.2,215.6 L504.4,211.9 M488.35,212.2 L486.4,212.2 M515.1,212.2 L517.2,212.2 M516.15,226.7 L518.2,223.8 M522,222.8 L518.2,223.8 M529.4,222.8 L533,223.8 M534.9,226.7 L533,223.8 M534.9,232.3 L533,235 M529.4,235.85 L533,235 M522,235.85 L518.2,235 M516.15,232.3 L518.2,235 M524.6,225.55 L523.4,229.3 M524.6,233 L523.4,229.3 M527,225.55 L528.2,229.3 M527,233 L528.2,229.3 M512.15,229.6 L510.2,229.6 M538.9,229.6 L541,229.6 M444.45,209.3 L446.5,206.4 M450.3,205.4 L446.5,206.4 M457.7,205.4 L461.3,206.4 M463.2,209.3 L461.3,206.4 M463.2,214.9 L461.3,217.6 M457.7,218.45 L461.3,217.6 M450.3,218.45 L446.5,217.6 M444.45,214.9 L446.5,217.6 M452.9,208.15 L451.7,211.9 M452.9,215.6 L451.7,211.9 M455.3,208.15 L456.5,211.9 M455.3,215.6 L456.5,211.9 M440.45,212.2 L438.5,212.2 M467.2,212.2 L469.3,212.2 M468.25,226.7 L470.3,223.8 M474.1,222.8 L470.3,223.8 M481.5,222.8 L485.1,223.8 M487,226.7 L485.1,223.8 M487,232.3 L485.1,235 M481.5,235.85 L485.1,235 M474.1,235.85 L470.3,235 M468.25,232.3 L470.3,235 M476.7,225.55 L475.5,229.3 M476.7,233 L475.5,229.3 M479.1,225.55 L480.3,229.3 M479.1,233 L480.3,229.3 M464.25,229.6 L462.3,229.6 M491,229.6 L493.1,229.6 M492.05,244.1 L494.1,241.2 M497.9,240.2 L494.1,241.2 M505.3,240.2 L508.9,241.2 M510.8,244.1 L508.9,241.2 M510.8,249.7 L508.9,252.4 M505.3,253.25 L508.9,252.4 M497.9,253.25 L494.1,252.4 M492.05,249.7 L494.1,252.4 M500.5,242.95 L499.3,246.7 M500.5,250.4 L499.3,246.7 M502.9,242.95 L504.1,246.7 M502.9,250.4 L504.1,246.7 M488.05,247 L486.1,247 M514.8,247 L516.9,247 M493.5,175.1 L495.4,172.2 M498.7,171.3 L495.4,172.2 M505.4,174.1 L508.8,177.8 M505.7,181.75 L508.8,177.8 M499.2,184.65 L495.8,183.6 M493.7,180.8 L495.8,183.6 M501.5,175.1 L501,179.8 M489.5,178 L487.4,178 M505.6,185.75 L508.6,185.8 M517.3,192.5 L519.2,189.6 M522.5,188.7 L519.2,189.6 M529.2,191.5 L532.6,195.2 M529.5,199.15 L532.6,195.2 M523,202.05 L519.6,201 M517.5,198.2 L519.6,201 M525.3,192.5 L524.8,197.2 M513.3,195.4 L511.2,195.4 M529.4,203.15 L532.4,203.2 M541.1,209.9 L543,207 M546.3,206.1 L543,207 M553,208.9 L556.4,212.6 M553.3,216.55 L556.4,212.6 M546.8,219.45 L543.4,218.4 M541.3,215.6 L543.4,218.4 M549.1,209.9 L548.6,214.6 M537.1,212.8 L535,212.8 M553.2,220.55 L556.2,220.6 M540.8,244.7 L542.7,241.8 M546,240.9 L542.7,241.8 M552.7,243.7 L556.1,247.4 M553,251.35 L556.1,247.4 M546.5,254.25 L543.1,253.2 M541,250.4 L543.1,253.2 M548.8,244.7 L548.3,249.4 M536.8,247.6 L534.7,247.6 M552.9,255.35 L555.9,255.4 M516.7,262.1 L518.6,259.2 M521.9,258.3 L518.6,259.2 M528.6,261.1 L532,264.8 M528.9,268.75 L532,264.8 M522.4,271.65 L519,270.6 M516.9,267.8 L519,270.6 M524.7,262.1 L524.2,266.8 M512.7,265 L510.6,265 M528.8,272.75 L531.8,272.8 M434.8,227.3 L432.9,224.4 M429.6,223.5 L432.9,224.4 M422.9,226.3 L419.5,230 M422.6,233.95 L419.5,230 M429.1,236.85 L432.5,235.8 M434.6,233 L432.5,235.8 M426.8,227.3 L427.3,232 M438.8,230.2 L440.9,230.2 M422.7,237.95 L419.7,238 M458.6,244.7 L456.7,241.8 M453.4,240.9 L456.7,241.8 M446.7,243.7 L443.3,247.4 M446.4,251.35 L443.3,247.4 M452.9,254.25 L456.3,253.2 M458.4,250.4 L456.3,253.2 M450.6,244.7 L451.1,249.4 M462.6,247.6 L464.7,247.6 M446.5,255.35 L443.5,255.4 M482.4,262.1 L480.5,259.2 M477.2,258.3 L480.5,259.2 M470.5,261.1 L467.1,264.8 M470.2,268.75 L467.1,264.8 M476.7,271.65 L480.1,270.6 M482.2,267.8 L480.1,270.6 M474.4,262.1 L474.9,266.8 M486.4,265 L488.5,265 M470.3,272.75 L467.3,272.8 M564.8,225.95 L567.2,223.4 M570.65,222.1 L567.2,223.4 M576.4,224.65 L578.7,228.5 M576.4,232.4 L578.7,228.5 M570.65,235.05 L567.2,233.8 M564.8,231.15 L567.2,233.8 M560.55,228.5 L558.7,228.5 M498.4,278.8 L495.4,278.8 M504.4,278.8 L507.4,278.8 M499.65,282.05 L497.9,285.3 M503.15,282.05 L504.9,285.3" fill="none" stroke="#7a1f80" stroke-width="1.5" stroke-linecap="round"/>
<path d="M466.5,194.8 L468.55,191.9 M478.2,187 L474.4,188 M478.2,187 L481.8,188 M489.2,194.8 L487.3,191.9 M489.2,194.8 L487.3,197.5 M478.2,201.9 L481.8,201.05 M478.2,201.9 L474.4,201.05 M466.5,194.8 L468.55,197.5 M478.2,187 L477,190.75 M478.2,201.9 L477,198.2 M478.2,187 L479.4,190.75 M478.2,201.9 L479.4,198.2 M466.5,194.8 L464.55,194.8 M489.2,194.8 L491.3,194.8 M490.3,212.2 L492.35,209.3 M502,204.4 L498.2,205.4 M502,204.4 L505.6,205.4 M513,212.2 L511.1,209.3 M513,212.2 L511.1,214.9 M502,219.3 L505.6,218.45 M502,219.3 L498.2,218.45 M490.3,212.2 L492.35,214.9 M502,204.4 L500.8,208.15 M502,219.3 L500.8,215.6 M502,204.4 L503.2,208.15 M502,219.3 L503.2,215.6 M490.3,212.2 L488.35,212.2 M513,212.2 L515.1,212.2 M514.1,229.6 L516.15,226.7 M525.8,221.8 L522,222.8 M525.8,221.8 L529.4,222.8 M536.8,229.6 L534.9,226.7 M536.8,229.6 L534.9,232.3 M525.8,236.7 L529.4,235.85 M525.8,236.7 L522,235.85 M514.1,229.6 L516.15,232.3 M525.8,221.8 L524.6,225.55 M525.8,236.7 L524.6,233 M525.8,221.8 L527,225.55 M525.8,236.7 L527,233 M514.1,229.6 L512.15,229.6 M536.8,229.6 L538.9,229.6 M442.4,212.2 L444.45,209.3 M454.1,204.4 L450.3,205.4 M454.1,204.4 L457.7,205.4 M465.1,212.2 L463.2,209.3 M465.1,212.2 L463.2,214.9 M454.1,219.3 L457.7,218.45 M454.1,219.3 L450.3,218.45 M442.4,212.2 L444.45,214.9 M454.1,204.4 L452.9,208.15 M454.1,219.3 L452.9,215.6 M454.1,204.4 L455.3,208.15 M454.1,219.3 L455.3,215.6 M442.4,212.2 L440.45,212.2 M465.1,212.2 L467.2,212.2 M466.2,229.6 L468.25,226.7 M477.9,221.8 L474.1,222.8 M477.9,221.8 L481.5,222.8 M488.9,229.6 L487,226.7 M488.9,229.6 L487,232.3 M477.9,236.7 L481.5,235.85 M477.9,236.7 L474.1,235.85 M466.2,229.6 L468.25,232.3 M477.9,221.8 L476.7,225.55 M477.9,236.7 L476.7,233 M477.9,221.8 L479.1,225.55 M477.9,236.7 L479.1,233 M466.2,229.6 L464.25,229.6 M488.9,229.6 L491,229.6 M490,247 L492.05,244.1 M501.7,239.2 L497.9,240.2 M501.7,239.2 L505.3,240.2 M512.7,247 L510.8,244.1 M512.7,247 L510.8,249.7 M501.7,254.1 L505.3,253.25 M501.7,254.1 L497.9,253.25 M490,247 L492.05,249.7 M501.7,239.2 L500.5,242.95 M501.7,254.1 L500.5,250.4 M501.7,239.2 L502.9,242.95 M501.7,254.1 L502.9,250.4 M490,247 L488.05,247 M512.7,247 L514.8,247 M491.6,178 L493.5,175.1 M502,170.4 L498.7,171.3 M502,170.4 L505.4,174.1 M502.6,185.7 L505.7,181.75 M502.6,185.7 L499.2,184.65 M491.6,178 L493.7,180.8 M502,170.4 L501.5,175.1 M491.6,178 L489.5,178 M502.6,185.7 L505.6,185.75 M515.4,195.4 L517.3,192.5 M525.8,187.8 L522.5,188.7 M525.8,187.8 L529.2,191.5 M526.4,203.1 L529.5,199.15 M526.4,203.1 L523,202.05 M515.4,195.4 L517.5,198.2 M525.8,187.8 L525.3,192.5 M515.4,195.4 L513.3,195.4 M526.4,203.1 L529.4,203.15 M539.2,212.8 L541.1,209.9 M549.6,205.2 L546.3,206.1 M549.6,205.2 L553,208.9 M550.2,220.5 L553.3,216.55 M550.2,220.5 L546.8,219.45 M539.2,212.8 L541.3,215.6 M549.6,205.2 L549.1,209.9 M539.2,212.8 L537.1,212.8 M550.2,220.5 L553.2,220.55 M538.9,247.6 L540.8,244.7 M549.3,240 L546,240.9 M549.3,240 L552.7,243.7 M549.9,255.3 L553,251.35 M549.9,255.3 L546.5,254.25 M538.9,247.6 L541,250.4 M549.3,240 L548.8,244.7 M538.9,247.6 L536.8,247.6 M549.9,255.3 L552.9,255.35 M514.8,265 L516.7,262.1 M525.2,257.4 L521.9,258.3 M525.2,257.4 L528.6,261.1 M525.8,272.7 L528.9,268.75 M525.8,272.7 L522.4,271.65 M514.8,265 L516.9,267.8 M525.2,257.4 L524.7,262.1 M514.8,265 L512.7,265 M525.8,272.7 L528.8,272.75 M436.7,230.2 L434.8,227.3 M426.3,222.6 L429.6,223.5 M426.3,222.6 L422.9,226.3 M425.7,237.9 L422.6,233.95 M425.7,237.9 L429.1,236.85 M436.7,230.2 L434.6,233 M426.3,222.6 L426.8,227.3 M436.7,230.2 L438.8,230.2 M425.7,237.9 L422.7,237.95 M460.5,247.6 L458.6,244.7 M450.1,240 L453.4,240.9 M450.1,240 L446.7,243.7 M449.5,255.3 L446.4,251.35 M449.5,255.3 L452.9,254.25 M460.5,247.6 L458.4,250.4 M450.1,240 L450.6,244.7 M460.5,247.6 L462.6,247.6 M449.5,255.3 L446.5,255.35 M484.3,265 L482.4,262.1 M473.9,257.4 L477.2,258.3 M473.9,257.4 L470.5,261.1 M473.3,272.7 L470.2,268.75 M473.3,272.7 L476.7,271.65 M484.3,265 L482.2,267.8 M473.9,257.4 L474.4,262.1 M484.3,265 L486.4,265 M473.3,272.7 L470.3,272.75 M562.4,228.5 L564.8,225.95 M574.1,220.8 L570.65,222.1 M574.1,220.8 L576.4,224.65 M574.1,236.3 L576.4,232.4 M574.1,236.3 L570.65,235.05 M562.4,228.5 L564.8,231.15 M562.4,228.5 L560.55,228.5 M501.4,278.8 L498.4,278.8 M501.4,278.8 L504.4,278.8 M501.4,278.8 L499.65,282.05 M501.4,278.8 L503.15,282.05" fill="none" stroke="#145458" stroke-width="1.5" stroke-linecap="round"/>
<g fill="#7a1f80"><circle cx="470.6" cy="189" r="1.05"/><circle cx="485.4" cy="189" r="1.05"/><circle cx="485.4" cy="200.2" r="1.05"/><circle cx="470.6" cy="200.2" r="1.05"/><circle cx="494.4" cy="206.4" r="1.05"/><circle cx="509.2" cy="206.4" r="1.05"/><circle cx="509.2" cy="217.6" r="1.05"/><circle cx="494.4" cy="217.6" r="1.05"/><circle cx="518.2" cy="223.8" r="1.05"/><circle cx="533" cy="223.8" r="1.05"/><circle cx="533" cy="235" r="1.05"/><circle cx="518.2" cy="235" r="1.05"/><circle cx="446.5" cy="206.4" r="1.05"/><circle cx="461.3" cy="206.4" r="1.05"/><circle cx="461.3" cy="217.6" r="1.05"/><circle cx="446.5" cy="217.6" r="1.05"/><circle cx="470.3" cy="223.8" r="1.05"/><circle cx="485.1" cy="223.8" r="1.05"/><circle cx="485.1" cy="235" r="1.05"/><circle cx="470.3" cy="235" r="1.05"/><circle cx="494.1" cy="241.2" r="1.05"/><circle cx="508.9" cy="241.2" r="1.05"/><circle cx="508.9" cy="252.4" r="1.05"/><circle cx="494.1" cy="252.4" r="1.05"/><circle cx="495.4" cy="172.2" r="1.05"/><circle cx="508.8" cy="177.8" r="1.05"/><circle cx="495.8" cy="183.6" r="1.05"/><circle cx="519.2" cy="189.6" r="1.05"/><circle cx="532.6" cy="195.2" r="1.05"/><circle cx="519.6" cy="201" r="1.05"/><circle cx="543" cy="207" r="1.05"/><circle cx="556.4" cy="212.6" r="1.05"/><circle cx="543.4" cy="218.4" r="1.05"/><circle cx="542.7" cy="241.8" r="1.05"/><circle cx="556.1" cy="247.4" r="1.05"/><circle cx="543.1" cy="253.2" r="1.05"/><circle cx="518.6" cy="259.2" r="1.05"/><circle cx="532" cy="264.8" r="1.05"/><circle cx="519" cy="270.6" r="1.05"/><circle cx="432.9" cy="224.4" r="1.05"/><circle cx="419.5" cy="230" r="1.05"/><circle cx="432.5" cy="235.8" r="1.05"/><circle cx="456.7" cy="241.8" r="1.05"/><circle cx="443.3" cy="247.4" r="1.05"/><circle cx="456.3" cy="253.2" r="1.05"/><circle cx="480.5" cy="259.2" r="1.05"/><circle cx="467.1" cy="264.8" r="1.05"/><circle cx="480.1" cy="270.6" r="1.05"/><circle cx="567.2" cy="223.4" r="1.05"/><circle cx="578.7" cy="228.5" r="1.05"/><circle cx="567.2" cy="233.8" r="1.05"/><circle cx="571.5" cy="228.5" r="1.05"/></g>
<g fill="#48ccd0" stroke="#0b3c40" stroke-width="1.1"><circle cx="478.2" cy="187" r="2.1"/><circle cx="478.2" cy="201.9" r="2.1"/><circle cx="466.5" cy="194.8" r="2.1"/><circle cx="489.2" cy="194.8" r="2.1"/><circle cx="502" cy="204.4" r="2.1"/><circle cx="502" cy="219.3" r="2.1"/><circle cx="490.3" cy="212.2" r="2.1"/><circle cx="513" cy="212.2" r="2.1"/><circle cx="525.8" cy="221.8" r="2.1"/><circle cx="525.8" cy="236.7" r="2.1"/><circle cx="514.1" cy="229.6" r="2.1"/><circle cx="536.8" cy="229.6" r="2.1"/><circle cx="454.1" cy="204.4" r="2.1"/><circle cx="454.1" cy="219.3" r="2.1"/><circle cx="442.4" cy="212.2" r="2.1"/><circle cx="465.1" cy="212.2" r="2.1"/><circle cx="477.9" cy="221.8" r="2.1"/><circle cx="477.9" cy="236.7" r="2.1"/><circle cx="466.2" cy="229.6" r="2.1"/><circle cx="488.9" cy="229.6" r="2.1"/><circle cx="501.7" cy="239.2" r="2.1"/><circle cx="501.7" cy="254.1" r="2.1"/><circle cx="490" cy="247" r="2.1"/><circle cx="512.7" cy="247" r="2.1"/><circle cx="502" cy="170.4" r="2.1"/><circle cx="491.6" cy="178" r="2.1"/><circle cx="502.6" cy="185.7" r="2.1"/><circle cx="525.8" cy="187.8" r="2.1"/><circle cx="515.4" cy="195.4" r="2.1"/><circle cx="526.4" cy="203.1" r="2.1"/><circle cx="549.6" cy="205.2" r="2.1"/><circle cx="539.2" cy="212.8" r="2.1"/><circle cx="550.2" cy="220.5" r="2.1"/><circle cx="549.3" cy="240" r="2.1"/><circle cx="538.9" cy="247.6" r="2.1"/><circle cx="549.9" cy="255.3" r="2.1"/><circle cx="525.2" cy="257.4" r="2.1"/><circle cx="514.8" cy="265" r="2.1"/><circle cx="525.8" cy="272.7" r="2.1"/><circle cx="426.3" cy="222.6" r="2.1"/><circle cx="436.7" cy="230.2" r="2.1"/><circle cx="425.7" cy="237.9" r="2.1"/><circle cx="450.1" cy="240" r="2.1"/><circle cx="460.5" cy="247.6" r="2.1"/><circle cx="449.5" cy="255.3" r="2.1"/><circle cx="473.9" cy="257.4" r="2.1"/><circle cx="484.3" cy="265" r="2.1"/><circle cx="473.3" cy="272.7" r="2.1"/><circle cx="574.1" cy="220.8" r="2.1"/><circle cx="562.4" cy="228.5" r="2.1"/><circle cx="574.1" cy="236.3" r="2.1"/><circle cx="501.4" cy="278.8" r="2.1"/></g>
<path d="M23.8,275.6 L23.8,260.8 M20.6,265.3 L23.8,260.8 L27,265.3 M23.8,275.6 L38.8,275.6 M34.3,272.4 L38.8,275.6 L34.3,278.8 M165,276.7 L158.5,266.2 M158.15,271.71 L158.5,266.2 L163.59,268.34 M165,276.7 L178,276.3 M173.4,273.24 L178,276.3 L173.6,279.64 M320.7,235 L304,234.6 M308.42,237.91 L304,234.6 L308.58,231.51 M320.7,235 L303.6,252.8 M309.03,251.77 L303.6,252.8 L304.41,247.34 M320.7,235 L321,252 M324.12,247.44 L321,252 L317.72,247.56 M442.1,259 L426.8,249.3 M428.89,254.41 L426.8,249.3 L432.31,249.01 M442.1,259 L425.9,268.4 M431.4,268.91 L425.9,268.4 L428.19,263.37" fill="none" stroke="#2f4fa8" stroke-width="1.5" stroke-linecap="round" stroke-linejoin="round"/>
<text x="20.7" y="258" font-size="10.5" font-weight="bold" fill="#111">a</text>
<text x="43.4" y="280.7" font-size="10.5" font-weight="bold" fill="#111">c</text>
<text x="156.7" y="262.6" font-size="10.5" font-weight="bold" fill="#111">a</text>
<text x="183.1" y="280.4" font-size="10.5" font-weight="bold" fill="#111">b</text>
<text x="293" y="234.6" font-size="10.5" font-weight="bold" fill="#111">a</text>
<text x="295.9" y="258.1" font-size="10.5" font-weight="bold" fill="#111">b</text>
<text x="317.6" y="258.1" font-size="10.5" font-weight="bold" fill="#111">c</text>
<text x="417.7" y="249.7" font-size="10.5" font-weight="bold" fill="#111">a</text>
<text x="420.2" y="276.5" font-size="10.5" font-weight="bold" fill="#111">b</text>
<clipPath id="clipb"><rect x="83.8" y="307" width="238.4" height="193.1"/></clipPath>
<g clip-path="url(#clipb)" stroke-linejoin="round"><path d="M84.2,485.1C84.82,483.28 86.82,476.37 87.9,474.2C88.98,472.03 89.77,471.9 90.7,472.1C91.63,472.3 92.55,476 93.5,475.4C94.45,474.8 95.65,467.7 96.4,468.5C97.15,469.3 97.4,477.9 98,480.2C98.6,482.5 98.85,482.7 100,482.3C101.15,481.9 103.28,479.5 104.9,477.8C106.52,476.1 107.95,474.4 109.7,472.1C111.45,469.8 113.63,466.15 115.4,464C117.17,461.85 119.22,460.77 120.3,459.2C121.38,457.63 121.23,454.87 121.9,454.6C122.57,454.33 123.48,455.75 124.3,457.6C125.12,459.45 125.85,462.47 126.8,465.7C127.75,468.93 128.93,474.32 130,477C131.07,479.68 132.2,481.38 133.2,481.8C134.2,482.22 134.92,480.7 136,479.5C137.08,478.3 138,477.18 139.7,474.6C141.4,472.02 144.57,466.02 146.2,464C147.83,461.98 148.42,463.03 149.5,462.5C150.58,461.97 151.7,460.22 152.7,460.8C153.7,461.38 154.55,463.43 155.5,466C156.45,468.57 156.98,472.07 158.4,476.2C159.82,480.33 161.72,487.57 164,490.8C166.28,494.03 168.93,494.53 172.1,495.6C175.27,496.67 175.02,496.83 183,497.2C190.98,497.57 196.83,497.67 220,497.8C243.17,497.93 305,497.97 322,498" fill="none" stroke="#f7941d" stroke-width="2.1"/><path d="M84.2,485.1C84.82,483.28 86.82,476.37 87.9,474.2C88.98,472.03 89.77,471.9 90.7,472.1C91.63,472.3 92.55,476 93.5,475.4C94.45,474.8 95.65,467.7 96.4,468.5C97.15,469.3 97.4,477.9 98,480.2C98.6,482.5 98.85,482.7 100,482.3C101.15,481.9 103.28,479.5 104.9,477.8C106.52,476.1 107.95,474.4 109.7,472.1C111.45,469.8 113.63,466.15 115.4,464C117.17,461.85 119.22,460.77 120.3,459.2C121.38,457.63 121.23,454.87 121.9,454.6C122.57,454.33 123.48,455.75 124.3,457.6C125.12,459.45 125.85,462.47 126.8,465.7C127.75,468.93 128.93,474.32 130,477C131.07,479.68 132.2,481.38 133.2,481.8C134.2,482.22 134.92,480.7 136,479.5C137.08,478.3 138,477.18 139.7,474.6C141.4,472.02 144.57,466.02 146.2,464C147.83,461.98 148.42,463.03 149.5,462.5C150.58,461.97 151.7,460.22 152.7,460.8C153.7,461.38 154.55,463.43 155.5,466C156.45,468.57 156.98,472.07 158.4,476.2C159.82,480.33 161.72,487.57 164,490.8C166.28,494.03 168.93,494.53 172.1,495.6C175.27,496.67 175.02,496.83 183,497.2C190.98,497.57 196.83,497.67 220,497.8C243.17,497.93 305,497.97 322,498" fill="none" stroke="#8e2a94" stroke-width="2.1" stroke-dasharray="1.9 2.3"/><path d="M84,470C84.83,467 87.23,456.42 89,452C90.77,447.58 92.85,444 94.6,443.5C96.35,443 97.92,445.75 99.5,449C101.08,452.25 102.67,460.42 104.1,463C105.53,465.58 106.78,465 108.1,464.5C109.42,464 110.78,461.3 112,460C113.22,458.7 114.4,456.62 115.4,456.7C116.4,456.78 117.05,459.03 118,460.5C118.95,461.97 120.02,465.58 121.1,465.5C122.18,465.42 123.43,463.42 124.5,460C125.57,456.58 126.48,451.67 127.5,445C128.52,438.33 129.52,428.67 130.6,420C131.68,411.33 132.85,401 134,393C135.15,385 135.95,379.72 137.5,372C139.05,364.28 141.53,352.7 143.3,346.7C145.07,340.7 146.48,335.35 148.1,336C149.72,336.65 150.88,344.93 153,350.6C155.12,356.27 158.2,362.55 160.8,370C163.4,377.45 165.85,387.2 168.6,395.3C171.35,403.4 175.22,412.78 177.3,418.6C179.38,424.42 178.58,425.28 181.1,430.2C183.62,435.12 188.62,442.42 192.4,448.1C196.18,453.78 200.28,458.9 203.8,464.3C207.32,469.7 210,476.45 213.5,480.5C217,484.55 220.38,486.6 224.8,488.6C229.22,490.6 234.13,491.43 240,492.5C245.87,493.57 246.33,494.37 260,495C273.67,495.63 311.67,496.08 322,496.3" fill="none" stroke="#ea1c24" stroke-width="2.2" stroke-dasharray="2 2.4"/><path d="M84,466C84.83,463.83 87.25,456.67 89,453C90.75,449.33 92.8,444.87 94.5,444C96.2,443.13 97.78,445.97 99.2,447.8C100.62,449.63 101.92,452.7 103,455C104.08,457.3 104.7,461.27 105.7,461.6C106.7,461.93 107.92,459.17 109,457C110.08,454.83 111.27,450.53 112.2,448.6C113.13,446.67 113.73,446.27 114.6,445.4C115.47,444.53 116.45,443.13 117.4,443.4C118.35,443.67 119.42,445.72 120.3,447C121.18,448.28 121.9,451.9 122.7,451.1C123.5,450.3 124.3,445.55 125.1,442.2C125.9,438.85 126.42,434.93 127.5,431C128.58,427.07 130.23,423.77 131.6,418.6C132.97,413.43 134.23,405.83 135.7,400C137.17,394.17 138.97,387.13 140.4,383.6C141.83,380.07 142.85,379.12 144.3,378.8C145.75,378.48 147.65,378.95 149.1,381.7C150.55,384.45 151.87,390.77 153,395.3C154.13,399.83 154.87,404.88 155.9,408.9C156.93,412.92 157.3,414.13 159.2,419.4C161.1,424.67 164.87,434.82 167.3,440.5C169.73,446.18 171.78,449.53 173.8,453.5C175.82,457.47 176.3,460.35 179.4,464.3C182.5,468.25 187.53,473.15 192.4,477.2C197.27,481.25 203.2,485.88 208.6,488.6C214,491.32 216.23,492.18 224.8,493.5C233.37,494.82 243.8,495.87 260,496.5C276.2,497.13 311.67,497.17 322,497.3" fill="none" stroke="#1f3c9b" stroke-width="2.2" stroke-dasharray="2 2.4"/><path d="M84,476C84.5,473.67 85.95,466.57 87,462C88.05,457.43 89,451.77 90.3,448.6C91.6,445.43 93.35,443.1 94.8,443C96.25,442.9 97.32,444.08 99,448C100.68,451.92 103.43,461.83 104.9,466.5C106.37,471.17 106.58,473.58 107.8,476C109.02,478.42 110.67,480.7 112.2,481C113.73,481.3 115.52,479.95 117,477.8C118.48,475.65 119.75,471.62 121.1,468.1C122.45,464.58 123.35,463.05 125.1,456.7C126.85,450.35 129.7,437.83 131.6,430C133.5,422.17 134.88,416.78 136.5,409.7C138.12,402.62 139.88,393.78 141.3,387.5C142.72,381.22 143.7,377.18 145,372C146.3,366.82 147.1,361.9 149.1,356.4C151.1,350.9 154.4,343.38 157,339C159.6,334.62 162.78,331.35 164.7,330.1C166.62,328.85 167.2,330.2 168.5,331.5C169.8,332.8 170.87,334.4 172.5,337.9C174.13,341.4 176.37,345.85 178.3,352.5C180.23,359.15 182.42,369.7 184.1,377.8C185.78,385.9 187.02,393.43 188.4,401.1C189.78,408.77 190.65,416.52 192.4,423.8C194.15,431.08 196.47,438.05 198.9,444.8C201.33,451.55 204.3,458.62 207,464.3C209.7,469.98 212.13,475.25 215.1,478.9C218.07,482.55 220.65,484.27 224.8,486.2C228.95,488.13 234.13,489.37 240,490.5C245.87,491.63 250,492.35 260,493C270,493.65 289.67,494.1 300,494.4C310.33,494.7 318.33,494.73 322,494.8" fill="none" stroke="#ea1c24" stroke-width="2.2"/><path d="M83.8,464C84.48,462.38 86.7,457.05 87.9,454.3C89.1,451.55 89.93,449.25 91,447.5C92.07,445.75 92.93,442.93 94.3,443.8C95.67,444.67 97.57,449.42 99.2,452.7C100.83,455.98 102.62,461.48 104.1,463.5C105.58,465.52 106.78,465.38 108.1,464.8C109.42,464.22 110.78,461.35 112,460C113.22,458.65 114.4,456.62 115.4,456.7C116.4,456.78 117.05,458.87 118,460.5C118.95,462.13 119.92,466.72 121.1,466.5C122.28,466.28 123.75,461.1 125.1,459.2C126.45,457.3 127.98,457.53 129.2,455.1C130.42,452.67 131.35,448.45 132.4,444.6C133.45,440.75 134.28,436.47 135.5,432C136.72,427.53 138.45,421.55 139.7,417.8C140.95,414.05 142.05,411.25 143,409.5C143.95,407.75 144.48,407.38 145.4,407.3C146.32,407.22 147.28,408.13 148.5,409C149.72,409.87 151.45,412.08 152.7,412.5C153.95,412.92 154.92,411.97 156,411.5C157.08,411.03 157.75,410.78 159.2,409.7C160.65,408.62 162.68,406.98 164.7,405C166.72,403.02 169.38,399.13 171.3,397.8C173.22,396.47 174.58,397.3 176.2,397C177.82,396.7 179.52,396.53 181,396C182.48,395.47 183.93,393.8 185.1,393.8C186.27,393.8 187.05,394.52 188,396C188.95,397.48 189.25,398.62 190.8,402.7C192.35,406.78 195.13,414.02 197.3,420.5C199.47,426.98 201.65,434.57 203.8,441.6C205.95,448.63 208.05,456.48 210.2,462.7C212.35,468.92 214.27,474.85 216.7,478.9C219.13,482.95 221.28,484.85 224.8,487C228.32,489.15 231.93,490.58 237.8,491.8C243.67,493.02 249.63,493.67 260,494.3C270.37,494.93 289.67,495.32 300,495.6C310.33,495.88 318.33,495.93 322,496" fill="none" stroke="#1f3c9b" stroke-width="2.3"/></g>
<rect x="83.8" y="307" width="238.4" height="192.1" fill="none" stroke="#4a4a4a" stroke-width="1.3"/>
<path d="M83.8,499.1 h3.5 M83.8,460.68 h3.5 M83.8,422.26 h3.5 M83.8,383.84 h3.5 M83.8,345.42 h3.5 M83.8,307 h3.5 M83.8,499.1 v-2 M117.86,499.1 v-3.5 M151.91,499.1 v-2 M185.97,499.1 v-3.5 M220.03,499.1 v-2 M254.09,499.1 v-3.5 M288.14,499.1 v-2 M322.2,499.1 v-3.5" stroke="#4a4a4a" stroke-width="1"/>
<text x="80.4" y="504.8" font-size="16" text-anchor="end" fill="#1a1a1a" >0</text>
<text x="80.4" y="466.38" font-size="16" text-anchor="end" fill="#1a1a1a" >2</text>
<text x="80.4" y="427.96" font-size="16" text-anchor="end" fill="#1a1a1a" >4</text>
<text x="80.4" y="389.54" font-size="16" text-anchor="end" fill="#1a1a1a" >6</text>
<text x="80.4" y="351.12" font-size="16" text-anchor="end" fill="#1a1a1a" >8</text>
<text x="80.4" y="312.7" font-size="16" text-anchor="end" fill="#1a1a1a" >10</text>
<text x="117.86" y="516" font-size="16" text-anchor="middle" fill="#1a1a1a" >200</text>
<text x="185.97" y="516" font-size="16" text-anchor="middle" fill="#1a1a1a" >400</text>
<text x="254.09" y="516" font-size="16" text-anchor="middle" fill="#1a1a1a" >600</text>
<text x="322.2" y="516" font-size="16" text-anchor="middle" fill="#1a1a1a" >800</text>
<text x="203" y="546.6" font-size="21.6" text-anchor="middle" fill="#1a1a1a" >Wavelength (nm)</text>
<text transform="translate(47.6,394) rotate(-90)" x="0" y="0" font-size="21.6" text-anchor="middle" fill="#1a1a1a">Absorbance (a.u.)</text>
<text x="0.3" y="316.2" font-size="21.5" text-anchor="start" fill="#1a1a1a" letter-spacing="1.3">(b)</text>
<line x1="196.6" y1="315.3" x2="219.5" y2="315.3" stroke="#1f3c9b" stroke-width="2.1"/>
<text x="222.6" y="318.7" font-size="10" fill="#1a1a1a">heterostructure <tspan font-style="italic">a</tspan>-axis</text>
<line x1="196.6" y1="327.6" x2="219.5" y2="327.6" stroke="#1f3c9b" stroke-width="2.1" stroke-dasharray="2 2.2"/>
<text x="222.6" y="331" font-size="10" fill="#1a1a1a">heterostructure <tspan font-style="italic">b</tspan>-axis</text>
<line x1="196.6" y1="340.1" x2="219.5" y2="340.1" stroke="#ea1c24" stroke-width="2.1"/>
<text x="222.6" y="343.5" font-size="10" fill="#1a1a1a">SbI<tspan font-size="7" dy="2.2">3</tspan><tspan dy="-2.2"> </tspan><tspan font-style="italic">a</tspan>-axis</text>
<line x1="196.6" y1="354.9" x2="219.5" y2="354.9" stroke="#ea1c24" stroke-width="2.1" stroke-dasharray="2 2.2"/>
<text x="222.6" y="358.3" font-size="10" fill="#1a1a1a">SbI<tspan font-size="7" dy="2.2">3</tspan><tspan dy="-2.2"> </tspan><tspan font-style="italic">b</tspan>-axis</text>
<line x1="196.6" y1="368.9" x2="219.5" y2="368.9" stroke="#f7941d" stroke-width="2.1"/>
<text x="222.6" y="372.3" font-size="10" fill="#1a1a1a">Sb<tspan font-size="7" dy="2.2">2</tspan><tspan dy="-2.2">O</tspan><tspan font-size="7" dy="2.2">3</tspan><tspan dy="-2.2"> </tspan><tspan font-style="italic">a</tspan>-axis</text>
<line x1="196.6" y1="382.7" x2="219.5" y2="382.7" stroke="#8e2a94" stroke-width="2.1" stroke-dasharray="2 2.2"/>
<text x="222.6" y="386.1" font-size="10" fill="#1a1a1a">Sb<tspan font-size="7" dy="2.2">2</tspan><tspan dy="-2.2">O</tspan><tspan font-size="7" dy="2.2">3</tspan><tspan dy="-2.2"> </tspan><tspan font-style="italic">b</tspan>-axis</text>
<clipPath id="clipc"><rect x="388" y="306.8" width="201" height="191.6"/></clipPath>
<g clip-path="url(#clipc)" stroke-linejoin="round"><line x1="388" y1="471.3" x2="589" y2="471.3" stroke="#f7941d" stroke-width="2.2"/><path d="M388.2,487.5C388.75,486.15 390.28,481.83 391.5,479.4C392.72,476.97 394.15,473.17 395.5,472.9C396.85,472.63 398.38,476.03 399.6,477.8C400.82,479.57 401.45,482.28 402.8,483.5C404.15,484.72 405.8,485.23 407.7,485.1C409.6,484.97 412.32,483.78 414.2,482.7C416.08,481.62 417.52,480.37 419,478.6C420.48,476.83 421.6,475.48 423.1,472.1C424.6,468.72 426.25,462.75 428,458.3C429.75,453.85 431.85,448.9 433.6,445.4C435.35,441.9 436.88,440.13 438.5,437.3C440.12,434.47 441.88,430.57 443.3,428.4C444.72,426.23 445.63,425.38 447,424.3C448.37,423.22 450.22,421.9 451.5,421.9C452.78,421.9 453.08,421.47 454.7,424.3C456.32,427.13 459.03,434.3 461.2,438.9C463.37,443.5 465.55,448.67 467.7,451.9C469.85,455.13 471.95,457.77 474.1,458.3C476.25,458.83 478.62,456.1 480.6,455.1C482.58,454.1 482.87,452.87 486,452.3C489.13,451.73 490.68,451.48 499.4,451.7C508.12,451.92 523.45,453.02 538.3,453.6C553.15,454.18 580.13,454.93 588.5,455.2" fill="none" stroke="#ea1c24" stroke-width="2.2"/><path d="M388.2,488.3C388.62,488.72 389.75,490.93 390.7,490.8C391.65,490.67 392.82,487.78 393.9,487.5C394.98,487.22 396.2,488.12 397.2,489.1C398.2,490.08 399.1,493.08 399.9,493.4C400.7,493.72 401.25,491.85 402,491C402.75,490.15 403.18,488.88 404.4,488.3C405.62,487.72 407.4,488.17 409.3,487.5C411.2,486.83 414.05,485.02 415.8,484.3C417.55,483.58 418.45,484.28 419.8,483.2C421.15,482.12 422.68,480.05 423.9,477.8C425.12,475.55 425.88,473.22 427.1,469.7C428.32,466.18 429.85,461.3 431.2,456.7C432.55,452.1 433.72,447.77 435.2,442.1C436.68,436.43 438.87,428.08 440.1,422.7C441.33,417.32 441.65,415.62 442.6,409.8C443.55,403.98 444.62,395.78 445.8,387.8C446.98,379.82 448.5,369.9 449.7,361.9C450.9,353.9 452.02,345.63 453,339.8C453.98,333.97 454.73,330.03 455.6,326.9C456.47,323.77 457.35,321.83 458.2,321C459.05,320.17 459.73,321.35 460.7,321.9C461.67,322.45 462.8,324.17 464,324.3C465.2,324.43 466.72,322.6 467.9,322.7C469.08,322.8 470.02,323.35 471.1,324.9C472.18,326.45 473.1,328.65 474.4,332C475.7,335.35 477.28,340.23 478.9,345C480.52,349.77 482.37,356.07 484.1,360.6C485.83,365.13 487.35,367.97 489.3,372.2C491.25,376.43 493.43,381.78 495.8,386C498.17,390.22 500.88,393.95 503.5,397.5C506.12,401.05 508.75,404.5 511.5,407.3C514.25,410.1 517.15,412.27 520,414.3C522.85,416.33 523.92,417.55 528.6,419.5C533.28,421.45 541.62,424.28 548.1,426C554.58,427.72 560.77,428.7 567.5,429.8C574.23,430.9 585,432.13 588.5,432.6" fill="none" stroke="#1f3c9b" stroke-width="2.3"/></g>
<rect x="388" y="306.8" width="201" height="191.6" fill="none" stroke="#4a4a4a" stroke-width="1.3"/>
<path d="M388,471.4 h3.5 M388,443.95 h2 M388,416.5 h3.5 M388,389.05 h2 M388,361.6 h3.5 M388,334.15 h2 M388,498.4 v-3.5 M421.5,498.4 v-2 M455,498.4 v-3.5 M488.5,498.4 v-2 M522,498.4 v-3.5 M555.5,498.4 v-2 M589,498.4 v-3.5" stroke="#4a4a4a" stroke-width="1"/>
<text x="383.3" y="477.1" font-size="16" text-anchor="end" fill="#1a1a1a" >1</text>
<text x="383.3" y="422.2" font-size="16" text-anchor="end" fill="#1a1a1a" >2</text>
<text x="383.3" y="367.3" font-size="16" text-anchor="end" fill="#1a1a1a" >3</text>
<text x="383.3" y="312.4" font-size="16" text-anchor="end" fill="#1a1a1a" >4</text>
<text x="388" y="516" font-size="16" text-anchor="middle" fill="#1a1a1a" >200</text>
<text x="455" y="516" font-size="16" text-anchor="middle" fill="#1a1a1a" >400</text>
<text x="522" y="516" font-size="16" text-anchor="middle" fill="#1a1a1a" >600</text>
<text x="589" y="516" font-size="16" text-anchor="middle" fill="#1a1a1a" >800</text>
<text x="488.5" y="546.6" font-size="21.6" text-anchor="middle" fill="#1a1a1a" >Wavelength (nm)</text>
<text transform="translate(360.9,395.6) rotate(-90)" x="0" y="0" font-size="21.9" text-anchor="middle" fill="#1a1a1a">Dichroic ration</text>
<text x="335.6" y="316.4" font-size="21.5" text-anchor="start" fill="#1a1a1a" letter-spacing="1.5">(c)</text>
<line x1="481.5" y1="314.3" x2="503.5" y2="314.3" stroke="#1f3c9b" stroke-width="2.2"/>
<text x="504.8" y="317.6" font-size="9.6" fill="#1a1a1a" letter-spacing="-0.2">heterostructure &#945;<tspan font-size="6.5" dy="2">a</tspan><tspan dy="-2">/&#945;</tspan><tspan font-size="6.5" dy="2">b</tspan></text>
<line x1="481.5" y1="328.4" x2="503.5" y2="328.4" stroke="#ea1c24" stroke-width="2.2"/>
<text x="504.8" y="331.7" font-size="9.6" fill="#1a1a1a" letter-spacing="-0.2">SbI<tspan font-size="6.5" dy="2">3</tspan><tspan dy="-2"> &#945;</tspan><tspan font-size="6.5" dy="2">a</tspan><tspan dy="-2">/&#945;</tspan><tspan font-size="6.5" dy="2">b</tspan></text>
<line x1="481.5" y1="342.4" x2="503.5" y2="342.4" stroke="#f7941d" stroke-width="2.2"/>
<text x="504.8" y="345.7" font-size="9.6" fill="#1a1a1a" letter-spacing="-0.2">Sb<tspan font-size="6.5" dy="2">2</tspan><tspan dy="-2">O</tspan><tspan font-size="6.5" dy="2">3</tspan><tspan dy="-2"> &#945;</tspan><tspan font-size="6.5" dy="2">a</tspan><tspan dy="-2">/&#945;</tspan><tspan font-size="6.5" dy="2">b</tspan></text>
<circle cx="182.4" cy="690" r="17.66" fill="none" stroke="#c2c0c0" stroke-width="0.95"/><circle cx="182.4" cy="690" r="35.32" fill="none" stroke="#c2c0c0" stroke-width="0.95"/><circle cx="182.4" cy="690" r="52.98" fill="none" stroke="#c2c0c0" stroke-width="0.95"/><circle cx="182.4" cy="690" r="70.64" fill="none" stroke="#c2c0c0" stroke-width="0.95"/><path d="M182.4,690 L270.7,690 M182.4,690 L258.87,645.85 M182.4,690 L226.55,613.53 M182.4,690 L182.4,601.7 M182.4,690 L138.25,613.53 M182.4,690 L105.93,645.85 M182.4,690 L94.1,690 M182.4,690 L105.93,734.15 M182.4,690 L138.25,766.47 M182.4,690 L182.4,778.3 M182.4,690 L226.55,766.47 M182.4,690 L258.87,734.15" stroke="#c2c0c0" stroke-width="0.95"/><circle cx="182.4" cy="690" r="88.3" fill="none" stroke="#8c8c8c" stroke-width="1.1"/>
<path d="M263.8,690 L263.53,685.75 L262.74,681.56 L261.42,677.48 L259.62,673.59 L257.35,669.92 L254.66,666.52 L251.58,663.44 L248.18,660.71 L244.5,658.36 L240.6,656.4 L236.54,654.84 L232.38,653.69 L228.18,652.93 L223.99,652.55 L219.88,652.52 L215.88,652.82 L212.04,653.4 L208.39,654.22 L204.97,655.24 L201.8,656.4 L198.88,657.65 L196.23,658.94 L193.83,660.22 L191.68,661.45 L189.75,662.56 L188.03,663.54 L186.47,664.33 L185.04,664.92 L183.7,665.28 L182.4,665.4 L181.1,665.28 L179.76,664.92 L178.33,664.33 L176.77,663.54 L175.05,662.56 L173.12,661.45 L170.97,660.22 L168.57,658.94 L165.92,657.65 L163,656.4 L159.83,655.24 L156.41,654.22 L152.76,653.4 L148.92,652.82 L144.92,652.52 L140.81,652.55 L136.62,652.93 L132.42,653.69 L128.26,654.84 L124.2,656.4 L120.3,658.36 L116.62,660.71 L113.22,663.44 L110.14,666.52 L107.45,669.92 L105.18,673.59 L103.38,677.48 L102.06,681.56 L101.27,685.75 L101,690 L101.27,694.25 L102.06,698.44 L103.38,702.52 L105.18,706.41 L107.45,710.08 L110.14,713.48 L113.22,716.56 L116.62,719.29 L120.3,721.64 L124.2,723.6 L128.26,725.16 L132.42,726.31 L136.62,727.07 L140.81,727.45 L144.92,727.48 L148.92,727.18 L152.76,726.6 L156.41,725.78 L159.83,724.76 L163,723.6 L165.92,722.35 L168.57,721.06 L170.97,719.78 L173.12,718.55 L175.05,717.44 L176.77,716.46 L178.33,715.67 L179.76,715.08 L181.1,714.72 L182.4,714.6 L183.7,714.72 L185.04,715.08 L186.47,715.67 L188.03,716.46 L189.75,717.44 L191.68,718.55 L193.83,719.78 L196.23,721.06 L198.88,722.35 L201.8,723.6 L204.97,724.76 L208.39,725.78 L212.04,726.6 L215.88,727.18 L219.88,727.48 L223.99,727.45 L228.18,727.07 L232.38,726.31 L236.54,725.16 L240.6,723.6 L244.5,721.64 L248.18,719.29 L251.58,716.56 L254.66,713.48 L257.35,710.08 L259.62,706.41 L261.42,702.52 L262.74,698.44 L263.53,694.25 L263.8,690 Z" fill="none" stroke="#2a3f9c" stroke-width="1.6"/>
<path d="M223.3,690 L223.18,687.86 L222.81,685.75 L222.21,683.7 L221.37,681.72 L220.33,679.84 L219.08,678.08 L217.66,676.47 L216.08,675.01 L214.36,673.71 L212.54,672.6 L210.63,671.67 L208.67,670.91 L206.68,670.34 L204.68,669.94 L202.69,669.71 L200.75,669.62 L198.87,669.67 L197.05,669.83 L195.33,670.09 L193.7,670.43 L192.17,670.82 L190.75,671.24 L189.44,671.67 L188.22,672.09 L187.09,672.48 L186.05,672.83 L185.07,673.11 L184.15,673.33 L183.27,673.46 L182.4,673.5 L181.53,673.46 L180.65,673.33 L179.73,673.11 L178.75,672.83 L177.71,672.48 L176.58,672.09 L175.36,671.67 L174.05,671.24 L172.63,670.82 L171.1,670.43 L169.47,670.09 L167.75,669.83 L165.93,669.67 L164.05,669.62 L162.11,669.71 L160.12,669.94 L158.12,670.34 L156.13,670.91 L154.17,671.67 L152.26,672.6 L150.44,673.71 L148.72,675.01 L147.14,676.47 L145.72,678.08 L144.47,679.84 L143.43,681.72 L142.59,683.7 L141.99,685.75 L141.62,687.86 L141.5,690 L141.62,692.14 L141.99,694.25 L142.59,696.3 L143.43,698.28 L144.47,700.16 L145.72,701.92 L147.14,703.53 L148.72,704.99 L150.44,706.29 L152.26,707.4 L154.17,708.33 L156.13,709.09 L158.12,709.66 L160.12,710.06 L162.11,710.29 L164.05,710.38 L165.93,710.33 L167.75,710.17 L169.47,709.91 L171.1,709.57 L172.63,709.18 L174.05,708.76 L175.36,708.33 L176.58,707.91 L177.71,707.52 L178.75,707.17 L179.73,706.89 L180.65,706.67 L181.53,706.54 L182.4,706.5 L183.27,706.54 L184.15,706.67 L185.07,706.89 L186.05,707.17 L187.09,707.52 L188.22,707.91 L189.44,708.33 L190.75,708.76 L192.17,709.18 L193.7,709.57 L195.33,709.91 L197.05,710.17 L198.87,710.33 L200.75,710.38 L202.69,710.29 L204.68,710.06 L206.68,709.66 L208.67,709.09 L210.63,708.33 L212.54,707.4 L214.36,706.29 L216.08,704.99 L217.66,703.53 L219.08,701.92 L220.33,700.16 L221.37,698.28 L222.21,696.3 L222.81,694.25 L223.18,692.14 L223.3,690 Z" fill="none" stroke="#df2a2c" stroke-width="1.6"/>
<path d="M122.4,660 L123.19,661.91 L125.25,662.07 L123.68,663.42 L124.16,665.43 L122.4,664.35 L120.64,665.43 L121.12,663.42 L119.55,662.07 L121.61,661.91Z M112.7,672.1 L113.49,674.01 L115.55,674.17 L113.98,675.52 L114.46,677.53 L112.7,676.45 L110.94,677.53 L111.42,675.52 L109.85,674.17 L111.91,674.01Z M156.5,668.5 L157.29,670.41 L159.35,670.57 L157.78,671.92 L158.26,673.93 L156.5,672.85 L154.74,673.93 L155.22,671.92 L153.65,670.57 L155.71,670.41Z M168.9,672.1 L169.69,674.01 L171.75,674.17 L170.18,675.52 L170.66,677.53 L168.9,676.45 L167.14,677.53 L167.62,675.52 L166.05,674.17 L168.11,674.01Z M180,666.4 L180.79,668.31 L182.85,668.47 L181.28,669.82 L181.76,671.83 L180,670.75 L178.24,671.83 L178.72,669.82 L177.15,668.47 L179.21,668.31Z M184.8,658.3 L185.59,660.21 L187.65,660.37 L186.08,661.72 L186.56,663.73 L184.8,662.65 L183.04,663.73 L183.52,661.72 L181.95,660.37 L184.01,660.21Z M187.2,671.3 L187.99,673.21 L190.05,673.37 L188.48,674.72 L188.96,676.73 L187.2,675.65 L185.44,676.73 L185.92,674.72 L184.35,673.37 L186.41,673.21Z M177.5,702.1 L178.29,704.01 L180.35,704.17 L178.78,705.52 L179.26,707.53 L177.5,706.45 L175.74,707.53 L176.22,705.52 L174.65,704.17 L176.71,704.01Z M170.2,707.8 L170.99,709.71 L173.05,709.87 L171.48,711.22 L171.96,713.23 L170.2,712.15 L168.44,713.23 L168.92,711.22 L167.35,709.87 L169.41,709.71Z M158.1,713.9 L158.89,715.81 L160.95,715.97 L159.38,717.32 L159.86,719.33 L158.1,718.25 L156.34,719.33 L156.82,717.32 L155.25,715.97 L157.31,715.81Z M184,707 L184.79,708.91 L186.85,709.07 L185.28,710.42 L185.76,712.43 L184,711.35 L182.24,712.43 L182.72,710.42 L181.15,709.07 L183.21,708.91Z M188.9,704.5 L189.69,706.41 L191.75,706.57 L190.18,707.92 L190.66,709.93 L188.9,708.85 L187.14,709.93 L187.62,707.92 L186.05,706.57 L188.11,706.41Z M207.9,642.4 L208.69,644.31 L210.75,644.47 L209.18,645.82 L209.66,647.83 L207.9,646.75 L206.14,647.83 L206.62,645.82 L205.05,644.47 L207.11,644.31Z M235.3,647.8 L236.09,649.71 L238.15,649.87 L236.58,651.22 L237.06,653.23 L235.3,652.15 L233.54,653.23 L234.02,651.22 L232.45,649.87 L234.51,649.71Z M256.8,654 L257.59,655.91 L259.65,656.07 L258.08,657.42 L258.56,659.43 L256.8,658.35 L255.04,659.43 L255.52,657.42 L253.95,656.07 L256.01,655.91Z M200.9,665.6 L201.69,667.51 L203.75,667.67 L202.18,669.02 L202.66,671.03 L200.9,669.95 L199.14,671.03 L199.62,669.02 L198.05,667.67 L200.11,667.51Z M256.8,702.4 L257.59,704.31 L259.65,704.47 L258.08,705.82 L258.56,707.83 L256.8,706.75 L255.04,707.83 L255.52,705.82 L253.95,704.47 L256.01,704.31Z M242.3,713.8 L243.09,715.71 L245.15,715.87 L243.58,717.22 L244.06,719.23 L242.3,718.15 L240.54,719.23 L241.02,717.22 L239.45,715.87 L241.51,715.71Z M208.2,715.4 L208.99,717.31 L211.05,717.47 L209.48,718.82 L209.96,720.83 L208.2,719.75 L206.44,720.83 L206.92,718.82 L205.35,717.47 L207.41,717.31Z M107.6,719.6 L108.39,721.51 L110.45,721.67 L108.88,723.02 L109.36,725.03 L107.6,723.95 L105.84,725.03 L106.32,723.02 L104.75,721.67 L106.81,721.51Z M128.6,725.1 L129.39,727.01 L131.45,727.17 L129.88,728.52 L130.36,730.53 L128.6,729.45 L126.84,730.53 L127.32,728.52 L125.75,727.17 L127.81,727.01Z M209,733.6 L209.79,735.51 L211.85,735.67 L210.28,737.02 L210.76,739.03 L209,737.95 L207.24,739.03 L207.72,737.02 L206.15,735.67 L208.21,735.51Z M251.1,736.5 L251.89,738.41 L253.95,738.57 L252.38,739.92 L252.86,741.93 L251.1,740.85 L249.34,741.93 L249.82,739.92 L248.25,738.57 L250.31,738.41Z" fill="#2d4ea6"/>
<path d="M139.4,667.6 L140.19,669.51 L142.25,669.67 L140.68,671.02 L141.16,673.03 L139.4,671.95 L137.64,673.03 L138.12,671.02 L136.55,669.67 L138.61,669.51Z M131.8,687 L132.59,688.91 L134.65,689.07 L133.08,690.42 L133.56,692.43 L131.8,691.35 L130.04,692.43 L130.52,690.42 L128.95,689.07 L131.01,688.91Z M164.9,674 L165.69,675.91 L167.75,676.07 L166.18,677.42 L166.66,679.43 L164.9,678.35 L163.14,679.43 L163.62,677.42 L162.05,676.07 L164.11,675.91Z M181.1,675.7 L181.89,677.61 L183.95,677.77 L182.38,679.12 L182.86,681.13 L181.1,680.05 L179.34,681.13 L179.82,679.12 L178.25,677.77 L180.31,677.61Z M186.4,673.7 L187.19,675.61 L189.25,675.77 L187.68,677.12 L188.16,679.13 L186.4,678.05 L184.64,679.13 L185.12,677.12 L183.55,675.77 L185.61,675.61Z M143.2,704.2 L143.99,706.11 L146.05,706.27 L144.48,707.62 L144.96,709.63 L143.2,708.55 L141.44,709.63 L141.92,707.62 L140.35,706.27 L142.41,706.11Z M154.8,706.1 L155.59,708.01 L157.65,708.17 L156.08,709.52 L156.56,711.53 L154.8,710.45 L153.04,711.53 L153.52,709.52 L151.95,708.17 L154.01,708.01Z M164.6,705.8 L165.39,707.71 L167.45,707.87 L165.88,709.22 L166.36,711.23 L164.6,710.15 L162.84,711.23 L163.32,709.22 L161.75,707.87 L163.81,707.71Z M180.8,698.8 L181.59,700.71 L183.65,700.87 L182.08,702.22 L182.56,704.23 L180.8,703.15 L179.04,704.23 L179.52,702.22 L177.95,700.87 L180.01,700.71Z M188.9,701.3 L189.69,703.21 L191.75,703.37 L190.18,704.72 L190.66,706.73 L188.9,705.65 L187.14,706.73 L187.62,704.72 L186.05,703.37 L188.11,703.21Z M202.6,672.1 L203.39,674.01 L205.45,674.17 L203.88,675.52 L204.36,677.53 L202.6,676.45 L200.84,677.53 L201.32,675.52 L199.75,674.17 L201.81,674.01Z M212,673.4 L212.79,675.31 L214.85,675.47 L213.28,676.82 L213.76,678.83 L212,677.75 L210.24,678.83 L210.72,676.82 L209.15,675.47 L211.21,675.31Z M216.8,679.4 L217.59,681.31 L219.65,681.47 L218.08,682.82 L218.56,684.83 L216.8,683.75 L215.04,684.83 L215.52,682.82 L213.95,681.47 L216.01,681.31Z M239.5,687 L240.29,688.91 L242.35,689.07 L240.78,690.42 L241.26,692.43 L239.5,691.35 L237.74,692.43 L238.22,690.42 L236.65,689.07 L238.71,688.91Z M212.3,693.2 L213.09,695.11 L215.15,695.27 L213.58,696.62 L214.06,698.63 L212.3,697.55 L210.54,698.63 L211.02,696.62 L209.45,695.27 L211.51,695.11Z M190.4,672.9 L191.19,674.81 L193.25,674.97 L191.68,676.32 L192.16,678.33 L190.4,677.25 L188.64,678.33 L189.12,676.32 L187.55,674.97 L189.61,674.81Z M197.7,703.7 L198.49,705.61 L200.55,705.77 L198.98,707.12 L199.46,709.13 L197.7,708.05 L195.94,709.13 L196.42,707.12 L194.85,705.77 L196.91,705.61Z M229.3,707.8 L230.09,709.71 L232.15,709.87 L230.58,711.22 L231.06,713.23 L229.3,712.15 L227.54,713.23 L228.02,711.22 L226.45,709.87 L228.51,709.71Z" fill="#e3262e"/>
<text x="277.7" y="694.2" font-size="12.4" text-anchor="middle" fill="#1a1a1a" >0</text>
<text x="266.4" y="642.7" font-size="12.4" text-anchor="middle" fill="#1a1a1a" >30</text>
<text x="235.6" y="610" font-size="12.4" text-anchor="middle" fill="#1a1a1a" >60</text>
<text x="182.2" y="596.8" font-size="12.4" text-anchor="middle" fill="#1a1a1a" >90</text>
<text x="126.9" y="609.4" font-size="12.4" text-anchor="middle" fill="#1a1a1a" >120</text>
<text x="93.2" y="642.1" font-size="12.4" text-anchor="middle" fill="#1a1a1a" >150</text>
<text x="81.6" y="694.7" font-size="12.4" text-anchor="middle" fill="#1a1a1a" >180</text>
<text x="93" y="746.4" font-size="12.4" text-anchor="middle" fill="#1a1a1a" >210</text>
<text x="127" y="780.5" font-size="12.4" text-anchor="middle" fill="#1a1a1a" >240</text>
<text x="182.1" y="791.9" font-size="12.4" text-anchor="middle" fill="#1a1a1a" >270</text>
<text x="235.6" y="780.5" font-size="12.4" text-anchor="middle" fill="#1a1a1a" >300</text>
<text x="266.4" y="746.4" font-size="12.4" text-anchor="middle" fill="#1a1a1a" >330</text>
<path d="M66.4,601.2 L66.4,690.1 M66.4,690.1 h-2.2 M66.4,681.21 h-2.2 M66.4,672.32 h-2.2 M66.4,663.43 h-2.2 M66.4,654.54 h-2.2 M66.4,645.65 h-2.2 M66.4,636.76 h-2.2 M66.4,627.87 h-2.2 M66.4,618.98 h-2.2 M66.4,610.09 h-2.2 M66.4,601.2 h-2.2" stroke="#8a8a8a" stroke-width="0.9"/>
<text x="63.2" y="693.9" font-size="12.6" text-anchor="end" fill="#2a2a2a" >0.0</text>
<text x="63.2" y="676.3" font-size="12.6" text-anchor="end" fill="#2a2a2a" >0.5</text>
<text x="63.2" y="658.7" font-size="12.6" text-anchor="end" fill="#2a2a2a" >1.0</text>
<text x="63.2" y="641.1" font-size="12.6" text-anchor="end" fill="#2a2a2a" >1.5</text>
<text x="63.2" y="623.5" font-size="12.6" text-anchor="end" fill="#2a2a2a" >2.0</text>
<text x="63.2" y="605.9" font-size="12.6" text-anchor="end" fill="#2a2a2a" >2.5</text>
<text transform="translate(33.6,685.6) rotate(-90)" x="0" y="0" font-size="21" fill="#1a1a1a"><tspan font-style="italic">I</tspan><tspan font-size="19.6" dy="2.6">ph (pA)</tspan></text>
<text x="0" y="592.2" font-size="21.5" text-anchor="start" fill="#1a1a1a" letter-spacing="1.5">(d)</text>
<path d="M221,573.2 L221.63,574.73 L223.28,574.86 L222.03,575.93 L222.41,577.54 L221,576.68 L219.59,577.54 L219.97,575.93 L218.72,574.86 L220.37,574.73Z" fill="#2d4ea6"/>
<path d="M221,587.7 L221.63,589.23 L223.28,589.36 L222.03,590.43 L222.41,592.04 L221,591.18 L219.59,592.04 L219.97,590.43 L218.72,589.36 L220.37,589.23Z" fill="#e3262e"/>
<line x1="234" y1="575.6" x2="261.8" y2="575.6" stroke="#2a3f9c" stroke-width="1.5"/>
<line x1="234" y1="590.1" x2="261.8" y2="590.1" stroke="#df2a2c" stroke-width="1.5"/>
<text x="268" y="579.9" font-size="12.1" text-anchor="start" fill="#1a1a1a" >450 nm</text>
<text x="268" y="594.4" font-size="12.1" text-anchor="start" fill="#1a1a1a" >532 nm</text>
<defs>
<radialGradient id="bb" cx="0.38" cy="0.32" r="0.7"><stop offset="0" stop-color="#f2f8ff"/><stop offset="0.35" stop-color="#a9c9ee"/><stop offset="1" stop-color="#5e8fd0"/></radialGradient>
<radialGradient id="rb" cx="0.38" cy="0.32" r="0.7"><stop offset="0" stop-color="#fde6e6"/><stop offset="0.35" stop-color="#ee8a8c"/><stop offset="1" stop-color="#cf2e35"/></radialGradient>
</defs>
<clipPath id="clipe"><rect x="363.3" y="586.4" width="225" height="162.6"/></clipPath>
<g clip-path="url(#clipe)"><circle cx="370.7" cy="736.1" r="2.6" fill="url(#bb)"/><circle cx="377.9" cy="714.3" r="2.6" fill="url(#bb)"/><circle cx="385.3" cy="692.4" r="2.6" fill="url(#bb)"/><circle cx="393.1" cy="651.6" r="2.6" fill="url(#bb)"/><circle cx="400.8" cy="635.8" r="2.6" fill="url(#bb)"/><circle cx="416" cy="621.8" r="2.6" fill="url(#bb)"/><circle cx="422.6" cy="629.2" r="2.6" fill="url(#bb)"/><circle cx="430.4" cy="627.6" r="2.6" fill="url(#bb)"/><circle cx="437.8" cy="676.8" r="2.6" fill="url(#bb)"/><circle cx="445.6" cy="656.2" r="2.6" fill="url(#bb)"/><circle cx="453" cy="719.6" r="2.6" fill="url(#bb)"/><circle cx="460.5" cy="692.4" r="2.6" fill="url(#bb)"/><circle cx="468.3" cy="707" r="2.6" fill="url(#bb)"/><circle cx="483.3" cy="736.1" r="2.6" fill="url(#bb)"/><circle cx="490.4" cy="714.2" r="2.6" fill="url(#bb)"/><circle cx="498.2" cy="692.4" r="2.6" fill="url(#bb)"/><circle cx="506" cy="640.5" r="2.6" fill="url(#bb)"/><circle cx="513.2" cy="672.3" r="2.6" fill="url(#bb)"/><circle cx="520.6" cy="623.3" r="2.6" fill="url(#bb)"/><circle cx="528" cy="641.2" r="2.6" fill="url(#bb)"/><circle cx="535.7" cy="629.2" r="2.6" fill="url(#bb)"/><circle cx="557.9" cy="628.2" r="2.6" fill="url(#bb)"/><circle cx="565.3" cy="645.1" r="2.6" fill="url(#bb)"/><circle cx="573.1" cy="692.4" r="2.6" fill="url(#bb)"/><circle cx="580.5" cy="700.3" r="2.6" fill="url(#bb)"/><circle cx="363.9" cy="671.4" r="2.6" fill="url(#rb)"/><circle cx="377.5" cy="660.1" r="2.6" fill="url(#rb)"/><circle cx="385.3" cy="647.7" r="2.6" fill="url(#rb)"/><circle cx="393.1" cy="637.4" r="2.6" fill="url(#rb)"/><circle cx="400.8" cy="633.5" r="2.6" fill="url(#rb)"/><circle cx="407.6" cy="622.8" r="2.6" fill="url(#rb)"/><circle cx="415.4" cy="618.3" r="2.6" fill="url(#rb)"/><circle cx="437.8" cy="623.2" r="2.6" fill="url(#rb)"/><circle cx="445.6" cy="632.9" r="2.6" fill="url(#rb)"/><circle cx="460.5" cy="672.8" r="2.6" fill="url(#rb)"/><circle cx="467.9" cy="643.8" r="2.6" fill="url(#rb)"/><circle cx="475.7" cy="680.5" r="2.6" fill="url(#rb)"/><circle cx="483" cy="650" r="2.6" fill="url(#rb)"/><circle cx="490.4" cy="646.3" r="2.6" fill="url(#rb)"/><circle cx="498.2" cy="636" r="2.6" fill="url(#rb)"/><circle cx="513.2" cy="623.3" r="2.6" fill="url(#rb)"/><circle cx="520.6" cy="620" r="2.6" fill="url(#rb)"/><circle cx="535.7" cy="616.1" r="2.6" fill="url(#rb)"/><circle cx="557.9" cy="629.6" r="2.6" fill="url(#rb)"/><circle cx="565.7" cy="630.1" r="2.6" fill="url(#rb)"/><circle cx="573.1" cy="666.1" r="2.6" fill="url(#rb)"/><path d="M363.3,713.97 L365.18,713.75 L367.05,713.09 L368.93,712.01 L370.8,710.51 L372.68,708.61 L374.55,706.33 L376.43,703.7 L378.3,700.75 L380.18,697.49 L382.05,693.99 L383.93,690.26 L385.8,686.36 L387.68,682.32 L389.55,678.19 L391.43,674.01 L393.3,669.83 L395.18,665.7 L397.05,661.66 L398.93,657.76 L400.8,654.03 L402.68,650.52 L404.55,647.27 L406.43,644.31 L408.3,641.68 L410.18,639.4 L412.05,637.51 L413.93,636.01 L415.8,634.92 L417.68,634.27 L419.55,634.05 L421.43,634.27 L423.3,634.92 L425.18,636.01 L427.05,637.51 L428.93,639.4 L430.8,641.68 L432.68,644.31 L434.55,647.27 L436.43,650.52 L438.3,654.03 L440.18,657.76 L442.05,661.66 L443.93,665.7 L445.8,669.83 L447.68,674.01 L449.55,678.19 L451.43,682.32 L453.3,686.36 L455.18,690.26 L457.05,693.99 L458.93,697.49 L460.8,700.75 L462.68,703.7 L464.55,706.33 L466.43,708.61 L468.3,710.51 L470.18,712.01 L472.05,713.09 L473.93,713.75 L475.8,713.97 L477.68,713.75 L479.55,713.09 L481.43,712.01 L483.3,710.51 L485.17,708.61 L487.05,706.33 L488.92,703.7 L490.8,700.75 L492.67,697.49 L494.55,693.99 L496.42,690.26 L498.3,686.36 L500.17,682.32 L502.05,678.19 L503.92,674.01 L505.8,669.83 L507.67,665.7 L509.55,661.66 L511.42,657.76 L513.3,654.03 L515.17,650.52 L517.05,647.27 L518.92,644.31 L520.8,641.68 L522.67,639.4 L524.55,637.51 L526.42,636.01 L528.3,634.92 L530.17,634.27 L532.05,634.05 L533.92,634.27 L535.8,634.92 L537.67,636.01 L539.55,637.51 L541.42,639.4 L543.3,641.68 L545.17,644.31 L547.05,647.27 L548.92,650.52 L550.8,654.03 L552.67,657.76 L554.55,661.66 L556.42,665.7 L558.3,669.83 L560.17,674.01 L562.05,678.19 L563.92,682.32 L565.8,686.36 L567.67,690.26 L569.55,693.99 L571.42,697.49 L573.3,700.75 L575.17,703.7 L577.05,706.33 L578.92,708.61 L580.8,710.51 L582.67,712.01 L584.55,713.09 L586.42,713.75 L588.3,713.97" fill="none" stroke="#25399a" stroke-width="1.6"/><path d="M363.3,656.74 L365.18,656.65 L367.05,656.36 L368.93,655.89 L370.8,655.23 L372.68,654.4 L374.55,653.4 L376.43,652.24 L378.3,650.95 L380.18,649.52 L382.05,647.99 L383.93,646.35 L385.8,644.64 L387.68,642.87 L389.55,641.06 L391.43,639.23 L393.3,637.4 L395.18,635.59 L397.05,633.82 L398.93,632.11 L400.8,630.47 L402.68,628.94 L404.55,627.51 L406.43,626.22 L408.3,625.06 L410.18,624.06 L412.05,623.23 L413.93,622.58 L415.8,622.1 L417.68,621.81 L419.55,621.72 L421.43,621.81 L423.3,622.1 L425.18,622.58 L427.05,623.23 L428.93,624.06 L430.8,625.06 L432.68,626.22 L434.55,627.51 L436.43,628.94 L438.3,630.47 L440.18,632.11 L442.05,633.82 L443.93,635.59 L445.8,637.4 L447.68,639.23 L449.55,641.06 L451.43,642.87 L453.3,644.64 L455.18,646.35 L457.05,647.99 L458.93,649.52 L460.8,650.95 L462.68,652.24 L464.55,653.4 L466.43,654.4 L468.3,655.23 L470.18,655.89 L472.05,656.36 L473.93,656.65 L475.8,656.74 L477.68,656.65 L479.55,656.36 L481.43,655.89 L483.3,655.23 L485.17,654.4 L487.05,653.4 L488.92,652.24 L490.8,650.95 L492.67,649.52 L494.55,647.99 L496.42,646.35 L498.3,644.64 L500.17,642.87 L502.05,641.06 L503.92,639.23 L505.8,637.4 L507.67,635.59 L509.55,633.82 L511.42,632.11 L513.3,630.47 L515.17,628.94 L517.05,627.51 L518.92,626.22 L520.8,625.06 L522.67,624.06 L524.55,623.23 L526.42,622.58 L528.3,622.1 L530.17,621.81 L532.05,621.72 L533.92,621.81 L535.8,622.1 L537.67,622.58 L539.55,623.23 L541.42,624.06 L543.3,625.06 L545.17,626.22 L547.05,627.51 L548.92,628.94 L550.8,630.47 L552.67,632.11 L554.55,633.82 L556.42,635.59 L558.3,637.4 L560.17,639.23 L562.05,641.06 L563.92,642.87 L565.8,644.64 L567.67,646.35 L569.55,647.99 L571.42,649.52 L573.3,650.95 L575.17,652.24 L577.05,653.4 L578.92,654.4 L580.8,655.23 L582.67,655.89 L584.55,656.36 L586.42,656.65 L588.3,656.74" fill="none" stroke="#d7282c" stroke-width="1.6"/></g>
<rect x="363.3" y="586.4" width="225" height="162.6" fill="none" stroke="#4a4a4a" stroke-width="1.3"/>
<text x="360.6" y="605.8" font-size="13.4" text-anchor="end" fill="#1a1a1a" >0</text>
<text x="360.6" y="655.13" font-size="13.4" text-anchor="end" fill="#1a1a1a" >-1</text>
<text x="360.6" y="704.46" font-size="13.4" text-anchor="end" fill="#1a1a1a" >-2</text>
<text x="360.6" y="753.79" font-size="13.4" text-anchor="end" fill="#1a1a1a" >-3</text>
<text x="363.3" y="762.6" font-size="13.4" text-anchor="middle" fill="#1a1a1a" >0</text>
<text x="419.55" y="762.6" font-size="13.4" text-anchor="middle" fill="#1a1a1a" >90</text>
<text x="475.8" y="762.6" font-size="13.4" text-anchor="middle" fill="#1a1a1a" >180</text>
<text x="532.05" y="762.6" font-size="13.4" text-anchor="middle" fill="#1a1a1a" >270</text>
<text x="588.3" y="762.6" font-size="13.4" text-anchor="middle" fill="#1a1a1a" >360</text>
<text x="457.6" y="789.8" font-size="21" fill="#1a1a1a"><tspan font-family="Liberation Serif, serif" font-size="21.5">&#952;</tspan> (&#176;)</text>
<text transform="translate(340.2,669) rotate(-90)" x="0" y="0" font-size="21.5" text-anchor="middle" fill="#1a1a1a">Current (pA)</text>
<text x="317.2" y="592" font-size="21.5" text-anchor="start" fill="#1a1a1a" letter-spacing="1.3">(e)</text>
<line x1="426.1" y1="591.3" x2="448.5" y2="591.3" stroke="#25399a" stroke-width="1.5"/>
<line x1="426.1" y1="603.3" x2="448.5" y2="603.3" stroke="#d7282c" stroke-width="1.5"/>
<circle cx="458.2" cy="591.3" r="2.6" fill="url(#bb)"/>
<circle cx="458.2" cy="603.3" r="2.6" fill="url(#rb)"/>
<text x="469.2" y="594.8" font-size="9.6" text-anchor="start" fill="#1a1a1a" >450 nm</text>
<text x="469.2" y="606.8" font-size="9.6" text-anchor="start" fill="#1a1a1a" >532 nm</text>
</svg>
</body></html>
